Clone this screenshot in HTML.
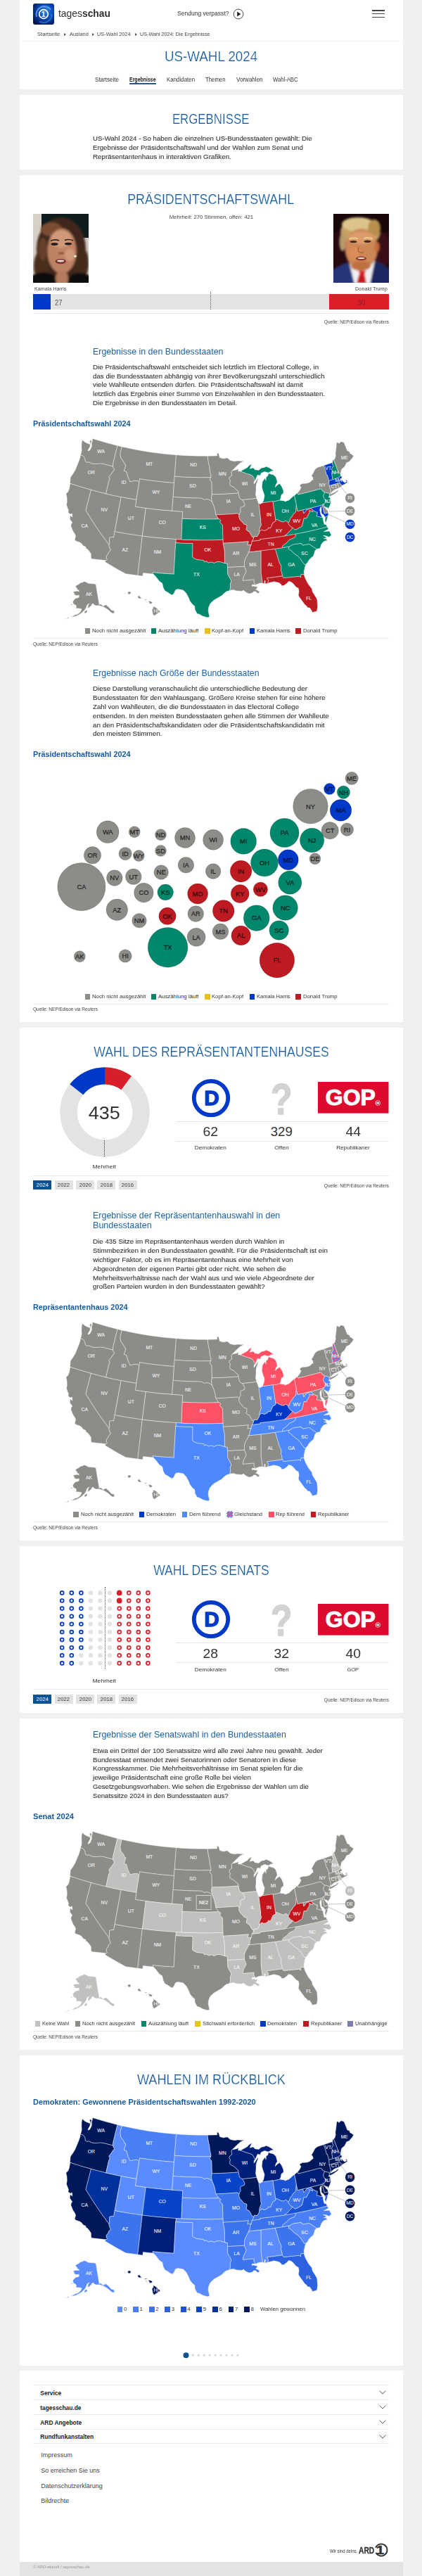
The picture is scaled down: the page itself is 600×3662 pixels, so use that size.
<!DOCTYPE html>
<html lang="de">
<head>
<meta charset="utf-8">
<title>US-Wahl 2024: Die Ergebnisse | tagesschau.de</title>
<meta name="viewport" content="width=600">
<style>
html,body{margin:0;padding:0}
body{background:#f0f0f0;font-family:"Liberation Sans",sans-serif;color:#333;width:600px;height:3662px;overflow:hidden}
#page{position:relative;width:600px;height:3662px;overflow:hidden}
.sec,main{display:block;margin:0;padding:0}
.card{position:absolute;left:27.5px;width:545px;background:#fff;margin:0}
.b{position:absolute}
.t{position:absolute;white-space:pre;line-height:1;margin:0;padding:0}
h1.t,h2.t,h3.t,h4.t{font-weight:400}
svg{position:absolute;overflow:visible}
a{color:inherit;text-decoration:none}
h1.t,h2.t{-webkit-text-stroke:0.22px #fff}
p.t{-webkit-text-stroke:0.1px #333}

</style>
</head>
<body>
<svg width="0" height="0" style="position:absolute" aria-hidden="true"><defs><pattern id="stripe" width="4.2" height="4.2" patternUnits="userSpaceOnUse" patternTransform="rotate(45)"><rect width="4.2" height="4.2" fill="#ff5064"/><rect width="2.1" height="4.2" fill="#4d88ff"/></pattern><path id="sWA" d="M24.5 26.8L25.7 23.2L26.2 20.1L25.9 16.3L26 9.9L27.1 5.2L30.4 8.3L34.3 10.2L38 11.6L38.2 14.6L35.9 18.6L34.8 21.2L37.6 20.2L39.1 17.5L40.5 13.7L40.3 9.4L41.5 6.1L41.3 3.4L58.4 8.6L77 13.5L70.8 38.7L70.6 43L56.8 39.5L52.5 39.1L46 39.6L41.1 39.2L36.7 37L33.6 37.4L30.9 35.5L31.2 33.3L29.6 29.6L28 28.1ZM37.2 6.8L39.2 5.7L40.2 7L39.3 10.2L39.5 13.2L38.9 13.7L38.5 11L38 8.4Z"/><path id="sOR" d="M24.5 26.8L28 28.1L29.6 29.6L31.2 33.3L30.9 35.5L33.6 37.4L36.7 37L41.1 39.2L46 39.6L52.5 39.1L56.8 39.5L70.6 43L71.1 44.9L72.7 47.4L68.6 53.3L64.8 58.3L66.2 60L65.8 62.2L64.7 64.3L60.7 81.9L48 78.7L35.5 75.3L22 71.3L10 67.4L9.5 66.2L10.2 58.5L13.7 53.7L16.8 48.4L22.1 35.8L23.8 30.5Z"/><path id="sCA" d="M40.2 174.4L39.5 172.8L39.5 171L39.3 167.3L36 162.4L33.9 160.3L32.2 159.8L32 157.4L29.7 156.5L27.5 155.2L26.5 153.2L23.4 151L17.4 148.9L16.3 147.2L17.6 141.9L16.4 139.1L13.8 135.2L10.8 127.8L11.4 124.5L12.9 123.1L9.3 118.1L9.4 114.8L10.5 112.5L11.3 113.8L12.6 115.2L12.7 111.6L12 109.8L10.2 111.3L6.9 108.7L7.5 105.8L4.5 97.9L5.3 92.9L5 86.7L3.8 81.9L6.8 79.1L8.3 75.3L9.3 69.8L10 67.4L24.7 72.1L39.5 76.4L32 105.6L38.8 116.6L47.1 129.4L55.8 142L65 154.5L65 156L65.7 157.5L66.3 160.3L67.7 162.1L64.9 164.6L63.4 168.4L61.5 170L61.2 173.5L62.6 175.6L61.1 176.8Z"/><path id="sNV" d="M39.5 76.4L49.4 79.1L60.7 81.9L70.7 84.2L82.2 86.6L76.6 116.1L71.7 143.6L68.8 143.5L65.9 144.3L65.5 148.5L65.8 152.6L65 154.5L55.8 142L47.1 129.4L38.8 116.6L32 105.6Z"/><path id="sID" d="M77 13.5L83.2 15L80.9 25L81.8 30.9L85.6 36.1L87.6 40.3L89.1 40.9L87.9 44.8L86.3 49.3L89.9 50.4L92 58.2L92.9 60L95 64.9L99.1 63.7L105.2 63.2L107.8 65.9L103.9 90.4L92.3 88.5L82.2 86.6L70.7 84.2L60.7 81.9L64.7 64.3L65.8 62.2L66.2 60L64.8 58.3L68.6 53.3L72.7 47.4L71.1 44.9L70.6 43L70.8 38.7Z"/><path id="sMT" d="M83.2 15L102.3 19.1L121.6 22.4L141 24.9L160.5 26.8L157.5 66.5L144.9 65.5L132.3 64.1L119.7 62.5L108.6 60.8L107.8 65.9L105.2 63.2L99.1 63.7L95 64.9L92.9 60L92 58.2L89.9 50.4L86.3 49.3L87.9 44.8L89.1 40.9L87.6 40.3L85.6 36.1L81.8 30.9L80.9 25Z"/><path id="sWY" d="M108.6 60.8L119.7 62.5L132.3 64.1L144.9 65.5L157.5 66.5L154.7 106.3L141.2 105.2L127.7 103.8L114.3 102.1L102.4 100.3Z"/><path id="sUT" d="M82.2 86.6L92.3 88.5L103.9 90.4L102.4 100.3L117.3 102.5L112.3 142.1L91.9 139.1L73.1 135.7Z"/><path id="sCO" d="M117.3 102.5L129.2 104L142.7 105.4L156.2 106.4L169.7 107.2L168 147L154 146.2L140.1 145.1L126.2 143.8L112.3 142.1Z"/><path id="sAZ" d="M73.1 135.7L91.9 139.1L112.3 142.1L105.8 198.1L88.7 195.7L73 187L59.2 178.8L60.3 176.7L61.1 176.8L62.6 175.6L61.2 173.5L61.5 170L63.4 168.4L64.9 164.6L67.7 162.1L66.3 160.3L65.7 157.5L65 156L65 154.5L65.8 152.6L65.5 148.5L65.9 144.3L68.8 143.5L71.7 143.6Z"/><path id="sNM" d="M112.3 142.1L123.1 143.4L135.5 144.7L147.9 145.8L160.3 146.6L160.1 151.6L159.7 151.6L157.2 196.2L142.1 195.2L127.1 193.8L127.6 196.1L113.4 194.5L112.9 199L105.8 198.1Z"/><path id="sTX" d="M127.6 196.1L127.1 193.8L142.1 195.2L157.2 196.2L159.7 151.6L171.9 152.2L184.1 152.6L183.7 171.9L186.2 173.7L190.3 175.6L192.4 175.6L195.2 176.1L199.4 176.3L200.6 178.8L203 177.8L206.9 180L209.8 179L211.9 179L214 180.4L218.5 178.6L222.7 178.5L229.5 180.6L233.3 181.3L233.9 196.6L238.4 204.5L238.7 206.8L237.4 210.3L237.4 213.3L237.6 215.8L236.6 219.4L231.7 221L228.7 223.3L225.8 226.2L224 227.4L214.4 232.9L210.5 236.4L208.7 238.6L206.5 243.9L206.1 248.8L208 257L204.8 257.8L198.5 256L193 253L190.3 252.5L187.2 246.7L186.8 241.8L183.3 238.8L179.9 234.3L178.2 229.8L174.8 223.3L170.6 219L169.3 218.6L162.8 217.5L159.5 218.7L157.3 223.5L154.9 226.1L151.1 224.1L149.7 222.8L144.3 219.7L142 215L140.7 209L136.5 206.2L132.2 200.6L128.3 196.3Z"/><path id="sOK" d="M160.3 146.6L176.2 147.4L193.7 147.8L211.2 147.7L227.2 147.2L227.3 152.2L229.3 163.1L229.5 180.6L222.7 178.5L218.5 178.6L214 180.4L211.9 179L209.8 179L206.9 180L203 177.8L200.6 178.8L199.4 176.3L195.2 176.1L192.4 175.6L190.3 175.6L186.2 173.7L183.7 171.9L184.1 152.6L171.3 152.2L160.1 151.6Z"/><path id="sKS" d="M169.2 117.2L181.3 117.7L195 117.9L208.6 117.9L220.7 117.6L222.7 118.5L224.2 119.8L222.5 121.9L224.1 124.2L226.4 126.2L227.2 147.2L213.1 147.7L197.6 147.8L182 147.6L168 147Z"/><path id="sNE" d="M156.1 86.4L176.3 87.6L196.5 88L200.2 90.3L204.5 89.4L207.5 90.4L210.4 92.4L211.5 93L214.3 99.8L215.8 105.2L216.3 107.7L216.4 109.7L217.1 111.9L218 113.7L219.6 115.6L220.7 117.6L208.6 117.9L195 117.9L181.3 117.7L169.2 117.2L169.7 107.2L154.7 106.3Z"/><path id="sSD" d="M158.2 57.2L170.5 58L184.1 58.5L196.4 58.7L210.1 58.6L208.2 61.6L211 65L211.4 82.9L210.9 84.9L210.6 87.9L211.5 93L210.4 92.4L207.5 90.4L204.5 89.4L200.2 90.3L196.5 88L176.3 87.6L156.1 86.4Z"/><path id="sND" d="M160.5 26.8L170.7 27.4L182.2 27.9L193.7 28.2L205.1 28.2L206.6 38.8L207.9 43.1L208.4 49.3L209.8 55.3L210.1 58.6L196.4 58.7L184.1 58.5L170.5 58L158.2 57.2Z"/><path id="sMN" d="M205.1 28.2L218.7 27.9L218.6 24.1L220.9 24.8L222.5 30.5L227.8 32L230.4 31.3L233.4 30.9L237.3 34.4L243.4 35.7L248.3 35L253.7 35.5L256.7 35.1L256.1 35.7L251.4 38.2L246 43.2L239.1 50.1L239.6 56L236.9 57.9L235.8 61L237.5 62.8L236.9 66.4L236.9 69.4L239.2 71L242.6 72.7L245.6 75.8L248.6 78L249.1 81L230.9 82.2L211.4 82.9L211 65L208.2 61.6L210.1 58.6L209.8 55.3L208.4 49.3L207.9 43.1L206.6 38.8Z"/><path id="sIA" d="M211.4 82.9L230.9 82.2L249.1 81L250.6 88.1L254.1 90.6L256 92.4L258.2 96.9L257.5 99.3L255.5 100.2L252.1 101.6L251.9 103.8L252.2 107.7L250.8 109.6L250.1 112.1L247.6 110L233.1 111.1L217.1 111.9L216.4 109.7L216.3 107.7L215.8 105.2L214.3 99.8L211.5 93L210.6 87.9L210.9 84.9Z"/><path id="sMO" d="M217.1 111.9L233.1 111.1L247.6 110L250.1 112.1L249.7 114.5L251.2 118.8L253.7 121.1L256.7 124.9L260.8 126.2L261.1 128.7L260.1 133.1L262.7 135.1L264.4 135.7L268.6 143.2L270.8 144L269.8 147.6L268.3 149.3L267.8 152.3L267.2 154.4L261.8 154.9L263.2 149.8L246.1 151.2L227.3 152.2L226.4 126.2L224.1 124.2L222.5 121.9L224.2 119.8L222.7 118.5L220.7 117.6L219.6 115.6L218 113.7Z"/><path id="sAR" d="M227.3 152.2L246.1 151.2L263.2 149.8L261.8 154.9L267.2 154.4L265.5 158.6L265 163.3L263.2 164.8L263.3 166.3L259 174.1L257.6 178.2L257.4 181.2L257.6 185.2L246.3 185.9L233.5 186.5L233.3 181.3L229.5 180.6L229.3 163.1Z"/><path id="sLA" d="M233.5 186.5L246.3 185.9L257.6 185.2L258.8 189.1L260.3 191.7L258.9 195L256.4 199.7L255.3 205.3L271.3 203.9L271 207.9L273.7 211.8L271.7 211.3L268.7 211.1L268 213.6L271 212.9L273.3 214.1L275.8 213.4L275.6 215.9L273.6 218.1L276.3 219.3L279.1 221.2L278 223.3L275.8 223.3L273.8 221L270.8 220.8L270 222.1L267.9 223.3L264.4 223.9L261.7 223.1L258.9 221.4L256.1 219.1L254 220.4L246.6 219.9L241.2 218.4L236.6 219.4L237.6 215.8L237.4 213.3L237.4 210.3L238.7 206.8L238.4 204.5L233.9 196.6Z"/><path id="sMS" d="M257.6 185.2L257.4 181.2L257.6 178.2L259 174.1L263.3 166.3L263.2 164.8L280.3 163L281.2 163.9L281.2 193.9L283.3 208.9L278.9 209.2L275.1 210.5L273.7 211.8L271 207.9L271.3 203.9L255.3 205.3L256.4 199.7L258.9 195L260.3 191.7L258.8 189.1Z"/><path id="sAL" d="M280.3 163L301.4 160.2L307.6 180.7L309.9 184.5L309.9 189.1L309.4 190.2L310.5 193.5L311.6 198.9L289.5 201.9L291.6 205.1L290.9 208.9L289.4 209.4L286.8 209.9L287.3 205.7L286 205.5L286 209.8L283.3 208.9L281.2 193.9L281.2 163.9Z"/><path id="sFL" d="M290.9 208.9L291.6 205.1L289.5 201.9L311.6 198.9L313.2 201.5L335.8 199.2L337.6 200.9L337.6 198.5L338.1 196.3L342.1 196.5L343.3 200.4L344.9 204.1L348.4 210.5L353.5 217.1L354.2 221L360.4 231L360.9 233.2L361.6 242.2L360.8 247.4L360.2 249L353.9 250.6L353.1 247.9L350.2 244L347.1 243.7L346.2 241.7L343.1 239.3L341.3 236.6L335.7 229L334.4 226.7L334.4 225.2L335.1 220.6L334.2 216.2L330.9 214.5L327.1 209.9L324.6 207.8L321.3 206.4L319.7 206.9L318.6 208.8L313.4 212.6L310.3 212.4L309.6 210.7L306.8 208.6L299.6 206.8Z"/><path id="sGA" d="M301.4 160.2L311.7 158.7L321.5 156.9L320 160.2L324.6 162.9L327.2 166L331 168.8L333.4 170.2L336 173.4L338 175.1L339.3 177.9L341.5 180.5L342.7 182.3L344.9 182.5L343.4 186.2L343 189.3L342.1 192.2L342.4 196L342.1 196.5L338.1 196.3L337.6 198.5L337.6 200.9L335.8 199.2L313.2 201.5L311.6 198.9L310.5 193.5L309.4 190.2L309.9 189.1L309.9 184.5L307.6 180.7Z"/><path id="sSC" d="M321.5 156.9L326.8 153.9L337.7 152.3L337.9 153.3L338.8 152.6L340.5 155.1L349.4 153.3L360.2 160.5L357.8 162.9L356.3 168.2L355.4 170.4L351.4 173.8L348.6 177L347.7 179.2L345.9 181.1L344.9 182.5L342.7 182.3L341.5 180.5L339.3 177.9L338 175.1L336 173.4L333.4 170.2L331 168.8L327.2 166L324.6 162.9L320 160.2Z"/><path id="sNC" d="M330.1 139.1L330.2 141.6L328.4 144.2L321.6 147.2L317.4 151.8L313.7 154.2L311.6 156.6L311.7 158.7L321.5 156.9L326.8 153.9L337.7 152.3L337.9 153.3L338.8 152.6L340.5 155.1L349.4 153.3L360.2 160.5L365 159.5L366.8 153.9L369.4 150.6L373.2 148.6L374.8 149.3L374.7 146.2L370.4 145.7L374 144.8L373.2 143.3L369.4 141.3L374.1 141.9L377.8 143.6L381.1 140.8L378.3 135.1L370.2 135.8L375.7 133.1L377.1 132L375.3 128.9L364.9 131.6L352.8 134.4L342.3 136.7Z"/><path id="sTN" d="M314.4 141.9L297.1 144.5L279.7 146.5L279.9 148L268.3 149.3L267.8 152.3L267.2 154.4L265.5 158.6L265 163.3L263.2 164.8L286.3 162.3L311.7 158.7L311.6 156.6L313.7 154.2L317.4 151.8L321.6 147.2L328.4 144.2L330.2 141.6L330.1 139.1Z"/><path id="sKY" d="M278.6 135.1L279.3 135.3L282 133L285.9 134.4L290.4 132.4L291.7 129.9L294.2 131L295.8 128.1L297.8 123.1L301.8 120.8L301.7 118.8L304.2 118.4L305.9 119.6L311 121.8L314.1 121.7L316.2 120L319.8 122.5L320.2 125L323.3 128.7L326.2 130.2L324.1 133.1L321.3 135.6L318.6 138.7L314.4 141.9L297.1 144.5L279.7 146.5L279.9 148L268.3 149.3L269.8 147.6L270.8 144L271.6 141.9L274.9 142.6L275.7 142.5L278.4 138.1Z"/><path id="sVA" d="M314.4 141.9L318.6 138.7L321.3 135.6L324.1 133.1L326.2 130.2L329 133.1L332.3 132.1L339.2 128L340.6 123L342 116.6L345.6 116.8L347.4 113.1L350.1 108.5L349.8 105.5L354.4 107.6L354.8 105.6L356.7 106.3L360.2 108.2L361.1 109.3L361.3 110.3L360.1 113.8L362.6 114.1L366.1 115.3L368.4 115.7L369.2 116.5L369.5 119.6L371 125.4L373.4 125.5L375.3 128.9L360.4 132.7L345.3 136.1L328.6 139.4ZM376.4 113.2L373.3 123.5L372 119.9L372.6 115.6L371.3 115.4Z"/><path id="sWV" d="M326.2 130.2L323.3 128.7L320.2 125L319.8 122.5L320.9 122.3L322.2 118.2L323.3 115.9L325.1 114.6L326.8 111.1L329.7 108.5L330.6 106.8L331.2 97.5L333.1 106.5L340.8 104.8L341.9 109.9L346.3 104.3L349.1 103.9L350.5 102.7L353.2 103.1L354.8 105.6L354.4 107.6L349.8 105.5L350.1 108.5L347.4 113.1L345.6 116.8L342 116.6L340.6 123L339.2 128L332.3 132.1L329 133.1Z"/><path id="sMD" d="M340.8 104.8L355.2 101.3L368.1 97.9L371.3 110.1L376.8 108.7L376.9 109.9L376.4 113.2L371.3 115.4L372 114.9L370.1 112.1L367.1 109.8L366.9 105.7L367 100L366.3 100.2L364.5 104.3L365.1 106.7L365.9 111.2L368.4 115.7L366.1 115.3L362.6 114.1L360.1 113.8L361.3 110.3L361.1 109.3L360.2 108.2L356.7 106.3L354.8 105.6L353.2 103.1L350.5 102.7L349.1 103.9L346.3 104.3L341.9 109.9Z"/><path id="sDE" d="M368.1 97.9L369.2 96.4L370.8 96.3L370.2 98.6L370.7 100.5L372.3 102.1L373.5 103.9L375.5 105.4L376.8 108.7L371.3 110.1Z"/><path id="sNJ" d="M370.8 96.3L372.5 94.8L373.7 92.8L374.3 91.1L371.7 89.8L369.9 87.3L369.6 84.4L371.7 79.7L378.4 81.5L378.3 84.7L377.2 87.1L379.2 87L380.4 94L379.2 98.4L376.3 103.8L375.7 101.5L373.6 101.2L370.9 99.9L370.2 98.6Z"/><path id="sPA" d="M371.7 79.7L368.5 78.1L367.9 76.2L365.3 74.9L350.4 78.9L333.9 83L333.4 80.3L328.5 84.4L333.1 106.5L348.1 103.1L363.8 99.1L368.1 97.9L369.2 96.4L370.8 96.3L372.5 94.8L373.7 92.8L374.3 91.1L371.7 89.8L369.9 87.3L369.6 84.4Z"/><path id="sNY" d="M333.4 80.3L335.8 77.4L338.1 72.7L336.5 71L336 69.5L339.8 67.4L346.4 67L350.5 65.6L353.4 62.8L355.3 61.5L354.4 58.1L352.8 56.4L355.1 52.7L357.9 47.2L361.5 44.5L370.5 41.7L372.9 49.4L374.4 55.3L375.5 55.5L377.8 63.2L378.2 70.5L380.5 78.2L379.3 80.1L380.1 81L379.8 82.6L383.6 80.7L387.7 78.9L389.4 76.9L391.7 76.7L388.8 79.9L383.6 83.4L378.8 85.8L378.3 84.7L378.4 81.5L371.7 79.7L370.1 78.9L368.5 78.1L367.9 76.2L365.3 74.9L350.4 78.9L333.9 83Z"/><path id="sCT" d="M378.2 70.5L390.1 66.9L391.9 73.7L384.7 76.8L380.1 81L379.3 80.1L380.5 78.2Z"/><path id="sRI" d="M390.1 66.9L393 65.9L394.1 68.1L395.4 68.8L396.5 70.3L395.4 71.2L394.2 72.5L391.9 73.7Z"/><path id="sMA" d="M378.2 70.5L377.8 63.2L383.4 61.6L391.7 58.8L394.2 56.4L396.4 58L394.6 61.8L396.8 62.7L398.3 64.8L399.9 66.2L402.9 64.8L401 62.6L403 62.6L404 65.8L401.8 67L399.6 68.6L397.8 69.3L396.5 70.3L395.4 68.8L394.1 68.1L393 65.9Z"/><path id="sVT" d="M370.5 41.7L382.7 37.6L382.9 40.3L384 42.5L381.6 46.6L382.3 49.5L381.8 52.9L382.1 56L382.6 59L382.4 60.6L383.4 61.6L377.8 63.2L375.5 55.5L374.4 55.3L372.9 49.4Z"/><path id="sNH" d="M382.7 37.6L383.1 34.3L384.5 33.8L391.4 51.7L394.3 54.2L394.2 56.4L391.7 58.8L383.4 61.6L382.4 60.6L382.6 59L382.1 56L381.8 52.9L382.3 49.5L381.6 46.6L384 42.5L382.9 40.3Z"/><path id="sME" d="M384.5 33.8L386 32.2L387.2 27.5L386.8 23.3L387.4 20.9L388.8 8.9L390.4 8.7L391.8 10.6L395 7.7L399.1 9.1L403.9 21L406.8 22.1L407.9 24.9L409.5 25.4L412.8 28.1L410.9 31.3L407.7 34.8L406.8 36.3L402.8 37.8L399.8 43.8L396.8 46L395.5 47.6L394.6 51.7L394.3 54.2L391.4 51.7Z"/><path id="sOH" d="M328.5 84.4L326.7 85.6L320.9 90.9L315.3 93L313.5 91.8L311.2 91.7L307.7 91.1L297.9 93.1L301.7 118.8L304.2 118.4L305.9 119.6L311 121.8L314.1 121.7L316.2 120L319.8 122.5L320.9 122.3L322.2 118.2L323.3 115.9L325.1 114.6L326.8 111.1L329.7 108.5L330.6 106.8L331.2 97.5Z"/><path id="sIN" d="M297.9 93.1L297.8 92.5L283 94.7L280.4 96.4L277.9 96L280.7 119.3L280.5 121.8L281.5 125.9L280.1 128.9L278.9 132.1L278.6 135.1L279.3 135.3L282 133L285.9 134.4L290.4 132.4L291.7 129.9L294.2 131L295.8 128.1L297.8 123.1L301.8 120.8L301.7 118.8Z"/><path id="sIL" d="M254.1 90.6L274.9 88.3L277.1 94.3L277.9 96L280.7 119.3L280.5 121.8L281.5 125.9L280.1 128.9L278.9 132.1L278.4 138.1L275.7 142.5L274.9 142.6L271.6 141.9L270.8 144L268.6 143.2L264.4 135.7L262.7 135.1L260.1 133.1L261.1 128.7L260.8 126.2L256.7 124.9L253.7 121.1L251.2 118.8L249.7 114.5L250.1 112.1L250.8 109.6L252.2 107.7L251.9 103.8L252.1 101.6L255.5 100.2L257.5 99.3L258.2 96.9L256 92.4Z"/><path id="sWI" d="M252 50L248.7 50L249 46.4L246.4 47.7L240.4 48.9L239.1 50.1L239.6 56L236.9 57.9L235.8 61L237.5 62.8L236.9 66.4L236.9 69.4L239.2 71L242.6 72.7L245.6 75.8L248.6 78L249.1 81L250.6 88.1L254.1 90.6L274.9 88.3L273.5 82.9L274.1 75.8L274 72.3L274.5 68.2L276.9 61.8L277.3 59.8L274.9 62.6L272.8 65.9L271 68.2L271.2 64.6L273.1 62.4L271.1 60.6L271.3 59.6L268.7 55.9L265 54.3L261.5 53.4Z"/><path id="sMI" d="M283 94.7L284.9 91L286.1 84.1L284.4 79.7L282.3 72.7L283 65L286.8 59.4L288.1 63.2L288.4 58.1L290.6 56.8L291.9 52.7L294 53.7L298.8 55.1L302.3 58.3L304.3 65.5L302.1 69.3L301.2 72.7L304.3 69.6L307.6 67.5L310.5 71.5L312.9 77.2L313.1 81.2L310.7 82.7L309.6 84.7L309.4 87.5L307.7 91.1L297.9 93.1L297.8 92.5ZM273.1 62.4L276 55.4L278.5 55.6L279.7 56.4L281.2 52.7L286.1 50.4L291.7 52L295.1 49.9L299.2 49.2L293.2 45.2L288.7 43.2L285.2 44.7L281.8 45.3L277.8 48.4L272.5 47.8L270.1 45.1L265.1 46.2L268 39.6L264.2 41.8L261.8 44.6L252 50L261.5 53.4L265 54.3L268.7 55.9L271.3 59.6L271.1 60.6Z"/><path id="sAK" d="M46.3 210.8L43.4 209.8L40.7 209.8L37.9 209.4L35.3 209.3L33.7 208.1L29.6 206.4L27.9 207.8L25.8 208.2L23.6 209L22.2 210.5L18.2 212.5L17.1 213.9L18.4 215.1L19.4 216.3L20 218.4L22 219.1L22.4 220.7L19.9 220.2L16.7 220.5L13.6 221.9L15.4 223.3L16.3 226L19.5 226.6L22.3 226.1L22.2 229L20.4 229.9L17.5 230.4L15.7 232.3L13.5 235L13.7 236L14.4 238.4L18 240.6L18.5 242.3L18 244.9L20.6 244.8L23.8 245.2L25.4 245.6L26.2 245.7L24.8 249L23.1 250.9L22.2 251.6L19.5 253.5L17.7 253.6L14.2 255.6L11.2 256.6L14.5 256.9L17.4 256.1L20.2 254.9L26.6 251.1L28.4 249L30.2 247.5L31 246.2L31.9 245L33.8 240.3L35 238.8L37.3 238.1L35.3 240L35 243.1L34.4 244.4L37.4 243.4L38.3 241.8L40 241.7L40.3 239.2L42.7 238.1L43.9 239.9L46.7 241.1L49.8 240.7L53.6 241.5L57.1 242.8L59.7 244.2L63.6 246.7L68.3 250.9L70.4 251.9L72.3 251.8L72.7 250.1L72 248.1L68.4 247.3L64.2 242.6L60.6 239.7L58.5 240.6L57 241.7L54 239.6L54 238.8L51.1 239.5ZM33.8 248.5L34.1 250.1L32.2 251.3L30.3 251.9L29.9 250L32.8 247.2ZM11 256.7L13.9 257.1L13.6 255.9L11.6 255.7ZM8.4 257.9L6.7 259.3L5 259.4L6.9 257.8ZM4.8 258.6L2.4 260.4L4 260.1ZM8.2 226.9L10.4 229.5L9.4 227.9ZM12.8 238.7L13.3 240.1L11.3 239.7L10.8 238.6Z"/><path id="sHI" d="M127.6 241.8L130.9 243.2L138 249.5L133.2 252.5L129.5 255.2L127.4 253.4L126.1 246.8L128.1 244.3ZM120.2 234.6L124 234.7L126.8 236.3L125.8 238L122.7 238.4L122 236.2ZM114.5 233L117.4 232L120 232.4L116.9 233.2ZM116.8 235.5L119 235.6L118.2 236.8ZM105.4 228L108.2 226.7L111.3 230.9L107 230.8ZM96.1 222.9L95.7 221.7L94.6 221L93.2 220.9L92 221.6L91.5 222.8L91.9 224L93 224.7L94.4 224.8L95.6 224.1ZM86.8 225.1L88.8 223.4L88.1 223.1Z"/><path id="sDC" d="M360.2 108.2L360.6 107.4L361.9 108.2L361.1 109.3Z"/></defs></svg>

<div id="page">
<header class="sec" aria-label="Kopfbereich"><div class="card" style="top:0px;height:127.2px"></div>
<svg role="img" aria-label="tagesschau Logo" style="left:47.2px;top:4.8px" width="30" height="30" viewBox="0 0 30 30"><defs><radialGradient id="lg" cx="0.6" cy="0.38" r="0.78"><stop offset="0" stop-color="#2a8af0"/><stop offset="0.4" stop-color="#0c4fb8"/><stop offset="0.8" stop-color="#03206c"/><stop offset="1" stop-color="#021046"/></radialGradient><clipPath id="lgc"><rect width="30" height="30" rx="3.2"/></clipPath></defs><rect width="30" height="30" rx="3.2" fill="url(#lg)"/><g clip-path="url(#lgc)" fill="none"><path d="M5 19 A11.5 11.5 0 0 1 25 8.5" stroke="#8fd0ff" stroke-width="2.2" opacity="0.55"/><path d="M9 25.5 A11.5 11.5 0 0 0 26.5 15" stroke="#3f9af0" stroke-width="2.2" opacity="0.5"/></g><circle cx="15" cy="15" r="6.3" fill="none" stroke="#fff" stroke-width="1.7"/><text x="14.6" y="18.6" text-anchor="middle" font-family="Liberation Sans, sans-serif" font-weight="700" font-size="10.2" fill="#fff">1</text></svg>
<div class="t" style="left:83.00px;top:11.18px;font-size:15.5px;transform:scaleX(0.8944);transform-origin:0 0;">tages<b>schau</b></div>
<div class="t" style="left:252.20px;top:15.18px;font-size:9px;transform:scaleX(0.9476);transform-origin:0 0;">Sendung verpasst?</div>
<svg style="left:330.5px;top:12px" width="16" height="16" viewBox="0 0 16 16"><circle cx="8" cy="8" r="6.9" fill="none" stroke="#333" stroke-width="0.9"/><path d="M6.2 4.6 L11.4 8 L6.2 11.4 Z" fill="#222"/></svg>
<div class="b" style="left:529px;top:14.3px;width:18.2px;height:1.3px;background:#444;"></div>
<div class="b" style="left:529px;top:19.2px;width:18.2px;height:1.3px;background:#444;"></div>
<div class="b" style="left:529px;top:24.1px;width:18.2px;height:1.3px;background:#444;"></div>
<div class="t" style="left:53.10px;top:45.04px;font-size:7.4px;color:#444;transform:scaleX(1.0341);transform-origin:0 0;">Startseite</div>
<div class="t" style="left:98.60px;top:45.04px;font-size:7.4px;color:#444;transform:scaleX(1.0030);transform-origin:0 0;">Ausland</div>
<div class="t" style="left:138.40px;top:45.04px;font-size:7.4px;color:#444;transform:scaleX(0.9938);transform-origin:0 0;">US-Wahl 2024</div>
<div class="t" style="left:199.00px;top:45.04px;font-size:7.4px;color:#444;transform:scaleX(0.9753);transform-origin:0 0;">US-Wahl 2024: Die Ergebnisse</div>
<svg style="left:91.1px;top:46.9px" width="3" height="4" viewBox="0 0 3 4"><path d="M0 0 L3 2 L0 4 Z" fill="#555"/></svg>
<svg style="left:131.1px;top:46.9px" width="3" height="4" viewBox="0 0 3 4"><path d="M0 0 L3 2 L0 4 Z" fill="#555"/></svg>
<svg style="left:191.6px;top:46.9px" width="3" height="4" viewBox="0 0 3 4"><path d="M0 0 L3 2 L0 4 Z" fill="#555"/></svg>
<div class="b" style="left:29.6px;top:58px;width:539px;height:1px;background:#efefef;"></div>
<h1 class="t" style="left:228.94px;top:69.50px;font-size:20.2px;color:#155a9f;transform:scaleX(0.9302);transform-origin:50% 0;">US-WAHL 2024</h1>
<div class="t" style="left:135.40px;top:108.89px;font-size:8.4px;transform:scaleX(0.9635);transform-origin:0 0;">Startseite</div>
<div class="t" style="left:184.40px;top:108.89px;font-size:8.4px;font-weight:700;color:#222;transform:scaleX(0.8327);transform-origin:0 0;">Ergebnisse</div>
<div class="b" style="left:184.4px;top:118.4px;width:37.6px;height:1.4px;background:#1a5c96;"></div>
<div class="t" style="left:236.90px;top:108.89px;font-size:8.4px;transform:scaleX(0.9460);transform-origin:0 0;">Kandidaten</div>
<div class="t" style="left:292.00px;top:108.89px;font-size:8.4px;transform:scaleX(0.9273);transform-origin:0 0;">Themen</div>
<div class="t" style="left:335.80px;top:108.89px;font-size:8.4px;transform:scaleX(0.9610);transform-origin:0 0;">Vorwahlen</div>
<div class="t" style="left:388.30px;top:108.89px;font-size:8.4px;transform:scaleX(0.9128);transform-origin:0 0;">Wahl-ABC</div>
</header>
<main>
<section class="sec" aria-label="Ergebnisse"><div class="card" style="top:134.8px;height:106.0px"></div>
<h2 class="t" style="left:234.37px;top:159.00px;font-size:20.2px;color:#155a9f;transform:scaleX(0.8342);transform-origin:50% 0;">ERGEBNISSE</h2>
<p class="t" style="left:131.50px;top:192.24px;font-size:9.4px;transform:scaleX(1.0302);transform-origin:0 0;">US-Wahl 2024 - So haben die einzelnen US-Bundesstaaten gewählt: Die</p>
<p class="t" style="left:131.50px;top:205.04px;font-size:9.4px;transform:scaleX(1.0362);transform-origin:0 0;">Ergebnisse der Präsidentschaftswahl und der Wahlen zum Senat und</p>
<p class="t" style="left:131.50px;top:217.84px;font-size:9.4px;transform:scaleX(1.0466);transform-origin:0 0;">Repräsentantenhaus in interaktiven Grafiken.</p>
</section>
<section class="sec" aria-label="Präsidentschaftswahl"><div class="card" style="top:248.6px;height:1204.8px"></div>
<h2 class="t" style="left:166.34px;top:272.70px;font-size:20.2px;color:#155a9f;transform:scaleX(0.8866);transform-origin:50% 0;">PRÄSIDENTSCHAFTSWAHL</h2>
<div class="t" style="left:239.54px;top:305.11px;font-size:7.9px;color:#444;transform:scaleX(0.9882);transform-origin:50% 0;">Mehrheit: 270 Stimmen, offen: 421</div>
<svg role="img" aria-label="Kamala Harris" style="left:47.1px;top:304.0px" width="78.9" height="98.1" viewBox="0 0 78.9 98.1"><defs><clipPath id="cph"><rect width="78.9" height="98.1"/></clipPath><filter id="bl1" x="-20%" y="-20%" width="140%" height="140%"><feGaussianBlur stdDeviation="1.5"/></filter><filter id="bl2" x="-20%" y="-20%" width="140%" height="140%"><feGaussianBlur stdDeviation="0.7"/></filter></defs><g clip-path="url(#cph)"><rect width="78.9" height="98.1" fill="#d6d0c6"/><rect x="12" y="0" width="67" height="34" fill="#0e1c1c"/><rect x="70" y="34" width="9" height="42" fill="#d2cdc4"/><g filter="url(#bl1)"><ellipse cx="40" cy="50" rx="35" ry="45" fill="#3f271b"/><ellipse cx="12" cy="74" rx="11" ry="22" fill="#4a2d1f"/><ellipse cx="68" cy="70" rx="11" ry="24" fill="#452a1d"/><ellipse cx="26" cy="22" rx="15" ry="10" fill="#7a4e33"/><ellipse cx="14" cy="50" rx="6" ry="16" fill="#68412b"/><path d="M-4 100 L-2 88 Q14 79 28 86 L40 100 Z" fill="#0b0b0e"/><path d="M84 100 L82 88 Q64 80 54 87 L42 100 Z" fill="#0d0d10"/><ellipse cx="41" cy="53" rx="20.5" ry="32" fill="#bd8262"/><ellipse cx="41" cy="92" rx="9" ry="12" fill="#b47c5e"/><ellipse cx="40" cy="36" rx="15" ry="12" fill="#d09a7a"/><ellipse cx="52" cy="58" rx="7" ry="9" fill="#d19a7a"/></g><g filter="url(#bl2)"><ellipse cx="30.5" cy="43" rx="5" ry="1.9" fill="#2a1a14"/><ellipse cx="50" cy="42.6" rx="5" ry="1.9" fill="#2a1a14"/><path d="M25 38.4 Q31 35.5 37 38" stroke="#3a2418" stroke-width="1.7" fill="none"/><path d="M45 37.6 Q51 35.2 57 38" stroke="#3a2418" stroke-width="1.7" fill="none"/><ellipse cx="40" cy="56" rx="4.4" ry="2" fill="#a0644a"/><ellipse cx="39.2" cy="67.6" rx="7.6" ry="3.6" fill="#7a3034"/><ellipse cx="39.2" cy="67" rx="5" ry="1.4" fill="#eadcd4"/><circle cx="60" cy="60.3" r="1.7" fill="#f4efe6"/></g></g></svg>
<svg role="img" aria-label="Donald Trump" style="left:473.7px;top:304.0px" width="79.0" height="98.1" viewBox="0 0 79 98.1"><defs><clipPath id="cpt"><rect width="79" height="98.1"/></clipPath></defs><g clip-path="url(#cpt)"><rect width="79" height="98.1" fill="#260a10"/><rect x="0" y="0" width="79" height="26" fill="#170709"/><g filter="url(#bl1)"><ellipse cx="66" cy="52" rx="16" ry="26" fill="#3a0e18"/><path d="M-4 100 L-3 82 Q6 74 20 69 L40 100 Z" fill="#27357a"/><path d="M84 100 L82 80 Q72 72 60 67 L40 100 Z" fill="#1c2860"/><path d="M22 67 L30 100 L52 100 L59 66 Q40 78 22 67 Z" fill="#f0f0f3"/><path d="M36.5 86 L44.5 86 L47 99 L33 99 Z" fill="#c4121c"/><path d="M36 81 L46 81 L44 88 L37.5 88 Z" fill="#d81c26"/><ellipse cx="38" cy="26" rx="28" ry="21" fill="#c4a064"/><ellipse cx="34" cy="15" rx="22" ry="10" fill="#dcc48c"/><ellipse cx="58" cy="20" rx="9" ry="12" fill="#b8904e"/><ellipse cx="13" cy="40" rx="4.5" ry="13" fill="#b89a6a"/><ellipse cx="39.5" cy="50" rx="23" ry="29" fill="#cd8656"/><ellipse cx="40" cy="34" rx="18" ry="9" fill="#dc9c6c"/><ellipse cx="30" cy="56" rx="8" ry="9" fill="#dc8e58"/><ellipse cx="39" cy="74" rx="14" ry="7" fill="#c07040"/><ellipse cx="62" cy="47" rx="3.5" ry="7" fill="#c06a3c"/></g><g filter="url(#bl2)"><ellipse cx="28.5" cy="39.6" rx="5" ry="1.7" fill="#3a2a24"/><ellipse cx="48.5" cy="39.2" rx="5" ry="1.7" fill="#3a2a24"/><path d="M22 36 Q28 32.6 35 35.6" stroke="#e6cc8a" stroke-width="1.9" fill="none"/><path d="M43 35.2 Q50 32.6 56 35.8" stroke="#e6cc8a" stroke-width="1.9" fill="none"/><path d="M36 47 Q34 53 37 54.5 Q40 55.6 43 54.5" stroke="#a85a30" stroke-width="1.3" fill="none"/><ellipse cx="39.5" cy="63.4" rx="7.6" ry="2.8" fill="#8a3a30"/><ellipse cx="39.5" cy="63" rx="5" ry="1.1" fill="#f0e0d8"/></g></g></svg>
<div class="t" style="left:49.30px;top:406.77px;font-size:7.6px;color:#444;transform:scaleX(0.9416);transform-origin:0 0;">Kamala Harris</div>
<div class="t" style="left:503.10px;top:406.77px;font-size:7.6px;color:#444;transform:scaleX(0.9559);transform-origin:100% 0;">Donald Trump</div>
<div class="b" style="left:47.4px;top:418.3px;width:505.20000000000005px;height:21.5px;background:#e3e3e3;"></div>
<div class="b" style="left:47.4px;top:418.3px;width:25.1px;height:21.5px;background:#0039ca;"></div>
<div class="b" style="left:468.1px;top:418.3px;width:84.5px;height:21.5px;background:#dc1e28;"></div>
<div class="t" style="left:77.80px;top:424.86px;font-size:10.8px;color:#555;transform:scaleX(0.8655);transform-origin:0 0;">27</div>
<div class="t" style="left:507.99px;top:424.86px;font-size:10.8px;color:#8e1a22;transform:scaleX(0.8822);transform-origin:50% 0;">90</div>
<div class="b" style="left:299.2px;top:415px;width:0;height:25px;border-left:1px dotted #555"></div>
<div class="b" style="left:47.4px;top:445px;width:505.20000000000005px;height:1px;background:#e6e6e6;"></div>
<div class="t" style="left:450.73px;top:454.31px;font-size:7.2px;color:#444;transform:scaleX(0.9031);transform-origin:100% 0;">Quelle: NEP/Edison via Reuters</div>
<h3 class="t" style="left:131.50px;top:493.73px;font-size:12.6px;color:#1b62a8;transform:scaleX(0.9849);transform-origin:0 0;">Ergebnisse in den Bundesstaaten</h3>
<p class="t" style="left:131.50px;top:516.74px;font-size:9.4px;transform:scaleX(1.0444);transform-origin:0 0;">Die Präsidentschaftswahl entscheidet sich letztlich im Electoral College, in</p>
<p class="t" style="left:131.50px;top:529.54px;font-size:9.4px;transform:scaleX(1.0384);transform-origin:0 0;">das die Bundesstaaten abhängig von ihrer Bevölkerungszahl unterschiedlich</p>
<p class="t" style="left:131.50px;top:542.34px;font-size:9.4px;transform:scaleX(1.0419);transform-origin:0 0;">viele Wahlleute entsenden dürfen. Die Präsidentschaftswahl ist damit</p>
<p class="t" style="left:131.50px;top:555.14px;font-size:9.4px;transform:scaleX(1.0367);transform-origin:0 0;">letztlich das Ergebnis einer Summe von Einzelwahlen in den Bundesstaaten.</p>
<p class="t" style="left:131.50px;top:567.94px;font-size:9.4px;transform:scaleX(1.0324);transform-origin:0 0;">Die Ergebnisse in den Bundesstaaten im Detail.</p>
<h4 class="t" style="left:47.40px;top:596.63px;font-size:10.6px;font-weight:700;color:#155a9f;transform:scaleX(1.0226);transform-origin:0 0;">Präsidentschaftswahl 2024</h4>
<svg class="map" role="img" aria-label="Karte Präsidentschaftswahl 2024" style="left:90.0px;top:620.0px" width="430" height="266" viewBox="0 0 430 266"><g stroke="#fff" stroke-width="0.42" stroke-linejoin="round"><use href="#sWA" fill="#8c8c88"/><use href="#sOR" fill="#8c8c88"/><use href="#sCA" fill="#8c8c88"/><use href="#sNV" fill="#8c8c88"/><use href="#sID" fill="#8c8c88"/><use href="#sMT" fill="#8c8c88"/><use href="#sWY" fill="#8c8c88"/><use href="#sUT" fill="#8c8c88"/><use href="#sCO" fill="#8c8c88"/><use href="#sAZ" fill="#8c8c88"/><use href="#sNM" fill="#8c8c88"/><use href="#sTX" fill="#00876c"/><use href="#sOK" fill="#bd1b21"/><use href="#sKS" fill="#00876c"/><use href="#sNE" fill="#8c8c88"/><use href="#sSD" fill="#8c8c88"/><use href="#sND" fill="#8c8c88"/><use href="#sMN" fill="#8c8c88"/><use href="#sIA" fill="#8c8c88"/><use href="#sMO" fill="#bd1b21"/><use href="#sAR" fill="#8c8c88"/><use href="#sLA" fill="#8c8c88"/><use href="#sMS" fill="#8c8c88"/><use href="#sAL" fill="#bd1b21"/><use href="#sFL" fill="#bd1b21"/><use href="#sGA" fill="#00876c"/><use href="#sSC" fill="#00876c"/><use href="#sNC" fill="#00876c"/><use href="#sTN" fill="#bd1b21"/><use href="#sKY" fill="#bd1b21"/><use href="#sVA" fill="#00876c"/><use href="#sWV" fill="#bd1b21"/><use href="#sMD" fill="#0038c8"/><use href="#sDE" fill="#8c8c88"/><use href="#sNJ" fill="#00876c"/><use href="#sPA" fill="#00876c"/><use href="#sNY" fill="#8c8c88"/><use href="#sCT" fill="#8c8c88"/><use href="#sRI" fill="#8c8c88"/><use href="#sMA" fill="#0038c8"/><use href="#sVT" fill="#0038c8"/><use href="#sNH" fill="#00876c"/><use href="#sME" fill="#8c8c88"/><use href="#sOH" fill="#00876c"/><use href="#sIN" fill="#bd1b21"/><use href="#sIL" fill="#8c8c88"/><use href="#sWI" fill="#8c8c88"/><use href="#sMI" fill="#00876c"/><use href="#sAK" fill="#8c8c88"/><use href="#sHI" fill="#8c8c88"/><use href="#sDC" fill="#0038c8"/></g><g stroke="#a8a8a8" stroke-width="0.7" fill="none"><path d="M393.3 69.6L407.6 88.1"/><path d="M377.3 107.0L407.6 106.4"/><path d="M377.0 111.2L407.6 125.3"/></g><circle cx="407.6" cy="88.1" r="6.8" fill="#8c8c88"/><circle cx="407.6" cy="106.4" r="6.8" fill="#8c8c88"/><circle cx="407.6" cy="125.3" r="6.8" fill="#0038c8"/><circle cx="407.6" cy="143.6" r="6.8" fill="#0038c8"/><g font-family="Liberation Sans, sans-serif" font-size="6.8" fill="#fff" fill-opacity="0.93" stroke="#fff" stroke-width="0.1" text-anchor="middle"><text x="53.7" y="24.0">WA</text><text x="39.8" y="54.2">OR</text><text x="30.2" y="129.9">CA</text><text x="58.3" y="106.8">NV</text><text x="86.0" y="68.0">ID</text><text x="122.3" y="42.4">MT</text><text x="131.9" y="81.6">WY</text><text x="96.3" y="118.5">UT</text><text x="140.8" y="125.3">CO</text><text x="87.8" y="164.3">AZ</text><text x="134.0" y="166.7">NM</text><text x="189.4" y="198.7">TX</text><text x="205.4" y="164.3">OK</text><text x="198.3" y="132.4">KS</text><text x="177.7" y="102.2">NE</text><text x="184.1" y="72.7">SD</text><text x="185.2" y="43.2">ND</text><text x="226.4" y="56.0">MN</text><text x="234.9" y="95.1">IA</text><text x="245.6" y="133.7">MO</text><text x="245.6" y="168.5">AR</text><text x="246.7" y="198.7">LA</text><text x="269.4" y="185.2">MS</text><text x="294.7" y="185.0">AL</text><text x="349.1" y="233.4">FL</text><text x="324.3" y="185.0">GA</text><text x="343.1" y="169.0">SC</text><text x="354.1" y="148.7">NC</text><text x="295.1" y="155.9">TN</text><text x="306.7" y="136.7">KY</text><text x="357.1" y="128.8">VA</text><text x="331.9" y="122.8">WV</text><text x="375.6" y="95.1">NJ</text><text x="355.0" y="95.1">PA</text><text x="368.5" y="72.0">NY</text><text x="385.2" y="74.1">CT</text><text x="391.3" y="64.8">MA</text><text x="376.7" y="47.8">VT</text><text x="386.6" y="54.2">NH</text><text x="399.8" y="33.2">ME</text><text x="315.5" y="108.9">OH</text><text x="292.5" y="113.9">IN</text><text x="269.4" y="113.9">IL</text><text x="258.0" y="70.2">WI</text><text x="298.5" y="83.3">MI</text><text x="36.6" y="226.5">AK</text><text x="131.9" y="251.0">HI</text><text x="407.6" y="90.2">RI</text><text x="407.6" y="108.5">DE</text><text x="407.6" y="127.4">MD</text><text x="407.6" y="145.7">DC</text></g></svg>
<div class="b" style="left:120.9px;top:893.0px;width:7.6px;height:7.6px;background:#8c8c88;"></div>
<div class="t" style="left:131.10px;top:893.00px;font-size:7.8px;transform:scaleX(0.9971);transform-origin:0 0;">Noch nicht ausgezählt</div>
<div class="b" style="left:214.7px;top:893.0px;width:7.6px;height:7.6px;background:#00876c;"></div>
<div class="t" style="left:224.90px;top:893.00px;font-size:7.8px;">Auszählung läuft</div>
<div class="b" style="left:291.0px;top:893.0px;width:7.6px;height:7.6px;background:#e6c315;"></div>
<div class="t" style="left:301.20px;top:893.00px;font-size:7.8px;transform:scaleX(0.9836);transform-origin:0 0;">Kopf-an-Kopf</div>
<div class="b" style="left:354.5px;top:893.0px;width:7.6px;height:7.6px;background:#0038c8;"></div>
<div class="t" style="left:364.70px;top:893.00px;font-size:7.8px;transform:scaleX(0.9634);transform-origin:0 0;">Kamala Harris</div>
<div class="b" style="left:420.4px;top:893.0px;width:7.6px;height:7.6px;background:#bd1b21;"></div>
<div class="t" style="left:430.60px;top:893.00px;font-size:7.8px;transform:scaleX(0.9901);transform-origin:0 0;">Donald Trump</div>
<div class="b" style="left:47.4px;top:907px;width:505.20000000000005px;height:1px;background:#e6e6e6;"></div>
<div class="t" style="left:47.40px;top:911.71px;font-size:7.2px;color:#444;transform:scaleX(0.9031);transform-origin:0 0;">Quelle: NEP/Edison via Reuters</div>
<h3 class="t" style="left:131.50px;top:951.33px;font-size:12.6px;color:#1b62a8;transform:scaleX(0.9763);transform-origin:0 0;">Ergebnisse nach Größe der Bundesstaaten</h3>
<p class="t" style="left:131.50px;top:974.44px;font-size:9.4px;transform:scaleX(1.0469);transform-origin:0 0;">Diese Darstellung veranschaulicht die unterschiedliche Bedeutung der</p>
<p class="t" style="left:131.50px;top:987.24px;font-size:9.4px;transform:scaleX(1.0342);transform-origin:0 0;">Bundesstaaten für den Wahlausgang. Größere Kreise stehen für eine höhere</p>
<p class="t" style="left:131.50px;top:1000.04px;font-size:9.4px;transform:scaleX(1.0313);transform-origin:0 0;">Zahl von Wahlleuten, die die Bundesstaaten in das Electoral College</p>
<p class="t" style="left:131.50px;top:1012.84px;font-size:9.4px;transform:scaleX(1.0454);transform-origin:0 0;">entsenden. In den meisten Bundesstaaten gehen alle Stimmen der Wahlleute</p>
<p class="t" style="left:131.50px;top:1025.64px;font-size:9.4px;transform:scaleX(1.0540);transform-origin:0 0;">an den Präsidentschaftskandidaten oder die Präsidentschaftskandidatin mit</p>
<p class="t" style="left:131.50px;top:1038.44px;font-size:9.4px;transform:scaleX(1.0549);transform-origin:0 0;">den meisten Stimmen.</p>
<h4 class="t" style="left:47.40px;top:1067.13px;font-size:10.6px;font-weight:700;color:#155a9f;transform:scaleX(1.0226);transform-origin:0 0;">Präsidentschaftswahl 2024</h4>
<svg role="img" aria-label="Bundesstaaten nach Zahl der Wahlleute" style="left:70px;top:1090px" width="450" height="310" viewBox="70 1090 450 310"><g stroke="#000" stroke-opacity="0.28" stroke-width="0.6"><circle cx="153.2" cy="1182.7" r="15.9" fill="#8c8c88"/><circle cx="191.2" cy="1182.7" r="8.0" fill="#8c8c88"/><circle cx="131.5" cy="1215.8" r="12.2" fill="#8c8c88"/><circle cx="178.1" cy="1213.6" r="9.2" fill="#8c8c88"/><circle cx="197.3" cy="1216.5" r="8.0" fill="#8c8c88"/><circle cx="115.9" cy="1260.6" r="34.1" fill="#8c8c88"/><circle cx="162.8" cy="1248.1" r="11.3" fill="#8c8c88"/><circle cx="189.8" cy="1246.3" r="11.3" fill="#8c8c88"/><circle cx="204.4" cy="1269.1" r="13.8" fill="#8c8c88"/><circle cx="166.3" cy="1293.3" r="15.3" fill="#8c8c88"/><circle cx="228.5" cy="1186.7" r="8.0" fill="#8c8c88"/><circle cx="228.5" cy="1209.4" r="8.0" fill="#8c8c88"/><circle cx="263" cy="1190.9" r="14.5" fill="#8c8c88"/><circle cx="303.1" cy="1193.8" r="14.5" fill="#8c8c88"/><circle cx="346.2" cy="1195.9" r="18.4" fill="#00876c"/><circle cx="264.4" cy="1229.7" r="11.3" fill="#8c8c88"/><circle cx="229.2" cy="1240" r="10.3" fill="#8c8c88"/><circle cx="303.1" cy="1238.6" r="10.8" fill="#8c8c88"/><circle cx="342.6" cy="1238.6" r="15.3" fill="#bd1b21"/><circle cx="235.2" cy="1268.4" r="11.3" fill="#00876c"/><circle cx="281.1" cy="1270.6" r="14.5" fill="#bd1b21"/><circle cx="341.2" cy="1270.6" r="13.0" fill="#bd1b21"/><circle cx="238.0" cy="1302.3" r="12.2" fill="#bd1b21"/><circle cx="278.3" cy="1299.1" r="11.3" fill="#8c8c88"/><circle cx="317.7" cy="1294.9" r="15.3" fill="#bd1b21"/><circle cx="500.1" cy="1106.4" r="9.2" fill="#8c8c88"/><circle cx="468.5" cy="1121.6" r="8.0" fill="#0038c8"/><circle cx="488.4" cy="1126.3" r="9.2" fill="#00876c"/><circle cx="441.5" cy="1146.2" r="24.8" fill="#8c8c88"/><circle cx="484.5" cy="1151.9" r="15.3" fill="#0038c8"/><circle cx="469.2" cy="1180.7" r="12.2" fill="#8c8c88"/><circle cx="493.4" cy="1179.2" r="9.2" fill="#8c8c88"/><circle cx="404.5" cy="1183.9" r="20.6" fill="#00876c"/><circle cx="443.6" cy="1194.5" r="17.2" fill="#00876c"/><circle cx="447.9" cy="1220.8" r="8.0" fill="#8c8c88"/><circle cx="409.8" cy="1222.2" r="14.5" fill="#0038c8"/><circle cx="376" cy="1226.5" r="19.5" fill="#00876c"/><circle cx="412.3" cy="1254.6" r="16.6" fill="#00876c"/><circle cx="370.4" cy="1264.2" r="10.3" fill="#bd1b21"/><circle cx="405.6" cy="1290.5" r="17.8" fill="#00876c"/><circle cx="364.7" cy="1305.1" r="18.4" fill="#00876c"/><circle cx="396.7" cy="1322.5" r="13.8" fill="#00876c"/><circle cx="313.5" cy="1324.3" r="11.3" fill="#8c8c88"/><circle cx="342.7" cy="1329.9" r="13.8" fill="#bd1b21"/><circle cx="393.9" cy="1365.1" r="24.8" fill="#bd1b21"/><circle cx="198" cy="1308.8" r="10.3" fill="#8c8c88"/><circle cx="238.6" cy="1346.8" r="28.4" fill="#00876c"/><circle cx="279.1" cy="1332.3" r="13.0" fill="#8c8c88"/><circle cx="178.1" cy="1358.9" r="9.2" fill="#8c8c88"/><circle cx="113.3" cy="1359.7" r="8.0" fill="#8c8c88"/></g><g font-family="Liberation Sans, sans-serif" font-size="9.3" fill="#000" fill-opacity="0.66" text-anchor="middle" stroke="#000" stroke-opacity="0.6" stroke-width="0.35"><text x="153.2" y="1186.0">WA</text><text x="191.2" y="1186.0">MT</text><text x="131.5" y="1219.1">OR</text><text x="178.1" y="1216.9">ID</text><text x="197.3" y="1219.8">WY</text><text x="115.9" y="1263.9">CA</text><text x="162.8" y="1251.4">NV</text><text x="189.8" y="1249.6">UT</text><text x="204.4" y="1272.4">CO</text><text x="166.3" y="1296.6">AZ</text><text x="228.5" y="1190.0">ND</text><text x="228.5" y="1212.7">SD</text><text x="263" y="1194.2">MN</text><text x="303.1" y="1197.1">WI</text><text x="346.2" y="1199.2">MI</text><text x="264.4" y="1233.0">IA</text><text x="229.2" y="1243.3">NE</text><text x="303.1" y="1241.9">IL</text><text x="342.6" y="1241.9">IN</text><text x="235.2" y="1271.7">KS</text><text x="281.1" y="1273.9">MO</text><text x="341.2" y="1273.9">KY</text><text x="238.0" y="1305.6">OK</text><text x="278.3" y="1302.4">AR</text><text x="317.7" y="1298.2">TN</text><text x="500.1" y="1109.7">ME</text><text x="468.5" y="1124.9">VT</text><text x="488.4" y="1129.6">NH</text><text x="441.5" y="1149.5">NY</text><text x="484.5" y="1155.2">MA</text><text x="469.2" y="1184.0">CT</text><text x="493.4" y="1182.5">RI</text><text x="404.5" y="1187.2">PA</text><text x="443.6" y="1197.8">NJ</text><text x="447.9" y="1224.1">DE</text><text x="409.8" y="1225.5">MD</text><text x="376" y="1229.8">OH</text><text x="412.3" y="1257.9">VA</text><text x="370.4" y="1267.5">WV</text><text x="405.6" y="1293.8">NC</text><text x="364.7" y="1308.4">GA</text><text x="396.7" y="1325.8">SC</text><text x="313.5" y="1327.6">MS</text><text x="342.7" y="1333.2">AL</text><text x="393.9" y="1368.4">FL</text><text x="198" y="1312.1">NM</text><text x="238.6" y="1350.1">TX</text><text x="279.1" y="1335.6">LA</text><text x="178.1" y="1362.2">HI</text><text x="113.3" y="1363.0">AK</text></g></svg>
<div class="b" style="left:120.9px;top:1413.0px;width:7.6px;height:7.6px;background:#8c8c88;"></div>
<div class="t" style="left:131.10px;top:1413.00px;font-size:7.8px;transform:scaleX(0.9971);transform-origin:0 0;">Noch nicht ausgezählt</div>
<div class="b" style="left:214.7px;top:1413.0px;width:7.6px;height:7.6px;background:#00876c;"></div>
<div class="t" style="left:224.90px;top:1413.00px;font-size:7.8px;">Auszählung läuft</div>
<div class="b" style="left:291.0px;top:1413.0px;width:7.6px;height:7.6px;background:#e6c315;"></div>
<div class="t" style="left:301.20px;top:1413.00px;font-size:7.8px;transform:scaleX(0.9836);transform-origin:0 0;">Kopf-an-Kopf</div>
<div class="b" style="left:354.5px;top:1413.0px;width:7.6px;height:7.6px;background:#0038c8;"></div>
<div class="t" style="left:364.70px;top:1413.00px;font-size:7.8px;transform:scaleX(0.9634);transform-origin:0 0;">Kamala Harris</div>
<div class="b" style="left:420.4px;top:1413.0px;width:7.6px;height:7.6px;background:#bd1b21;"></div>
<div class="t" style="left:430.60px;top:1413.00px;font-size:7.8px;transform:scaleX(0.9901);transform-origin:0 0;">Donald Trump</div>
<div class="b" style="left:47.4px;top:1426.5px;width:505.20000000000005px;height:1px;background:#e6e6e6;"></div>
<div class="t" style="left:47.40px;top:1431.41px;font-size:7.2px;color:#444;transform:scaleX(0.9031);transform-origin:0 0;">Quelle: NEP/Edison via Reuters</div>
</section>
<section class="sec" aria-label="Wahl des Repräsentantenhauses"><div class="card" style="top:1461.2px;height:729.1px"></div>
<h2 class="t" style="left:108.55px;top:1484.90px;font-size:20.2px;color:#155a9f;transform:scaleX(0.8739);transform-origin:50% 0;">WAHL DES REPRÄSENTANTENHAUSES</h2>
<svg role="img" aria-label="Sitzverteilung" style="left:83.5px;top:1515.8px" width="130" height="130" viewBox="-65 -65 130 130"><circle r="51.55" fill="none" stroke="#e3e3e3" stroke-width="24.30"/><circle r="51.55" fill="none" stroke="#d81e28" stroke-width="24.30" stroke-dasharray="32.76 323.90" transform="rotate(-90)"/><circle r="51.55" fill="none" stroke="#0038c8" stroke-width="24.30" stroke-dasharray="46.16 323.90" transform="rotate(-141.31)"/></svg>
<div class="t" style="left:127.21px;top:1569.90px;font-size:25.4px;transform:scaleX(1.0643);transform-origin:50% 0;">435</div>
<div class="b" style="left:148px;top:1620.6px;width:0;height:23px;border-left:1px dotted #333"></div>
<div class="t" style="left:133.23px;top:1654.80px;font-size:7.8px;transform:scaleX(1.1007);transform-origin:50% 0;">Mehrheit</div>
<div class="b" style="left:250.2px;top:1593.6999999999998px;width:302.40000000000003px;height:1px;background:#e6e6e6;"></div>
<div class="b" style="left:250.2px;top:1621.8999999999999px;width:302.40000000000003px;height:1px;background:#e6e6e6;"></div>
<svg role="img" aria-label="Demokraten" style="left:271.5px;top:1532.8px" width="56" height="56" viewBox="-28 -28 56 56"><circle r="24.2" fill="#fff" stroke="#0038c8" stroke-width="5.8"/><text x="0.9" y="10.4" text-anchor="middle" font-family="Liberation Sans, sans-serif" font-weight="700" font-size="29.5" fill="#0038c8" stroke="#0038c8" stroke-width="1.3" stroke-linejoin="round">D</text></svg>
<svg role="img" aria-label="Offen" style="left:375.3px;top:1528.8px" width="50" height="60" viewBox="-25 -32 50 60"><text transform="translate(0.3 23.4) scale(0.78 0.97)" text-anchor="middle" font-family="Liberation Sans, sans-serif" font-weight="700" font-size="64" fill="#d2d2d2" stroke="#d2d2d2" stroke-width="1.6" stroke-linejoin="round">?</text></svg>
<svg role="img" aria-label="Republikaner" style="left:452.1px;top:1538.1px" width="100.5" height="44.6" viewBox="0 0 100.5 44.6"><rect width="100.5" height="44.6" fill="#dc0a2d"/><text x="10.8" y="33.5" font-family="Liberation Sans, sans-serif" font-weight="700" font-size="31" fill="#fff" stroke="#fff" stroke-width="1.0" stroke-linejoin="round" textLength="71" lengthAdjust="spacingAndGlyphs">GOP</text><circle cx="85.2" cy="30.0" r="3.3" fill="none" stroke="#fff" stroke-width="0.8"/><rect x="83.4" y="28.7" width="3.6" height="2.6" rx="0.8" fill="#fff"/></svg>
<div class="t" style="left:289.16px;top:1600.16px;font-size:18.6px;transform:scaleX(1.0441);transform-origin:50% 0;">62</div>
<div class="t" style="left:278.27px;top:1628.30px;font-size:7.8px;transform:scaleX(1.0596);transform-origin:50% 0;">Demokraten</div>
<div class="t" style="left:384.78px;top:1600.16px;font-size:18.6px;">329</div>
<div class="t" style="left:390.83px;top:1628.30px;font-size:7.8px;transform:scaleX(1.0772);transform-origin:50% 0;">Offen</div>
<div class="t" style="left:491.56px;top:1600.16px;font-size:18.6px;transform:scaleX(1.0441);transform-origin:50% 0;">44</div>
<div class="t" style="left:478.92px;top:1628.30px;font-size:7.8px;transform:scaleX(1.0337);transform-origin:50% 0;">Republikaner</div>
<div class="b" style="left:47.4px;top:1670.6px;width:505.20000000000005px;height:1px;background:#e6e6e6;"></div>
<div class="b" style="left:47.4px;top:1678.4px;width:26.0px;height:12.8px;background:#0b5394;"></div>
<div class="t" style="left:51.95px;top:1681.27px;font-size:7.6px;color:#fff;transform:scaleX(1.0174);transform-origin:50% 0;">2024</div>
<div class="b" style="left:77.7px;top:1678.4px;width:26.0px;height:12.8px;background:#e3e3e3;"></div>
<div class="t" style="left:82.25px;top:1681.27px;font-size:7.6px;transform:scaleX(1.0174);transform-origin:50% 0;">2022</div>
<div class="b" style="left:108.0px;top:1678.4px;width:26.0px;height:12.8px;background:#e3e3e3;"></div>
<div class="t" style="left:112.55px;top:1681.27px;font-size:7.6px;transform:scaleX(1.0174);transform-origin:50% 0;">2020</div>
<div class="b" style="left:138.4px;top:1678.4px;width:26.0px;height:12.8px;background:#e3e3e3;"></div>
<div class="t" style="left:142.95px;top:1681.27px;font-size:7.6px;transform:scaleX(1.0174);transform-origin:50% 0;">2018</div>
<div class="b" style="left:168.7px;top:1678.4px;width:26.0px;height:12.8px;background:#e3e3e3;"></div>
<div class="t" style="left:173.25px;top:1681.27px;font-size:7.6px;transform:scaleX(1.0174);transform-origin:50% 0;">2016</div>
<div class="t" style="left:450.73px;top:1681.91px;font-size:7.2px;color:#444;transform:scaleX(0.9031);transform-origin:100% 0;">Quelle: NEP/Edison via Reuters</div>
<h3 class="t" style="left:131.50px;top:1722.23px;font-size:12.6px;color:#1b62a8;transform:scaleX(0.9905);transform-origin:0 0;">Ergebnisse der Repräsentantenhauswahl in den</h3>
<h3 class="t" style="left:131.50px;top:1736.43px;font-size:12.6px;color:#1b62a8;transform:scaleX(0.9972);transform-origin:0 0;">Bundesstaaten</h3>
<p class="t" style="left:131.50px;top:1760.34px;font-size:9.4px;transform:scaleX(1.0422);transform-origin:0 0;">Die 435 Sitze im Repräsentantenhaus werden durch Wahlen in</p>
<p class="t" style="left:131.50px;top:1773.14px;font-size:9.4px;transform:scaleX(1.0470);transform-origin:0 0;">Stimmbezirken in den Bundesstaaten gewählt. Für die Präsidentschaft ist ein</p>
<p class="t" style="left:131.50px;top:1785.94px;font-size:9.4px;transform:scaleX(1.0422);transform-origin:0 0;">wichtiger Faktor, ob es im Repräsentantenhaus eine Mehrheit von</p>
<p class="t" style="left:131.50px;top:1798.74px;font-size:9.4px;transform:scaleX(1.0395);transform-origin:0 0;">Abgeordneten der eigenen Partei gibt oder nicht. Wie sehen die</p>
<p class="t" style="left:131.50px;top:1811.54px;font-size:9.4px;transform:scaleX(1.0484);transform-origin:0 0;">Mehrheitsverhältnisse nach der Wahl aus und wie viele Abgeordnete der</p>
<p class="t" style="left:131.50px;top:1824.34px;font-size:9.4px;transform:scaleX(1.0461);transform-origin:0 0;">großen Parteien wurden in den Bundesstaaten gewählt?</p>
<h4 class="t" style="left:47.40px;top:1853.03px;font-size:10.6px;font-weight:700;color:#155a9f;transform:scaleX(1.0243);transform-origin:0 0;">Repräsentantenhaus 2024</h4>
<svg class="map" role="img" aria-label="Karte Repräsentantenhaus 2024" style="left:90.0px;top:1876.2px" width="430" height="266" viewBox="0 0 430 266"><g stroke="#fff" stroke-width="0.42" stroke-linejoin="round"><use href="#sWA" fill="#8c8c88"/><use href="#sOR" fill="#8c8c88"/><use href="#sCA" fill="#8c8c88"/><use href="#sNV" fill="#8c8c88"/><use href="#sID" fill="#8c8c88"/><use href="#sMT" fill="#8c8c88"/><use href="#sWY" fill="#8c8c88"/><use href="#sUT" fill="#8c8c88"/><use href="#sCO" fill="#8c8c88"/><use href="#sAZ" fill="#8c8c88"/><use href="#sNM" fill="#8c8c88"/><use href="#sTX" fill="#4d88ff"/><use href="#sOK" fill="#4d88ff"/><use href="#sKS" fill="#ff5064"/><use href="#sNE" fill="#8c8c88"/><use href="#sSD" fill="#8c8c88"/><use href="#sND" fill="#8c8c88"/><use href="#sMN" fill="#8c8c88"/><use href="#sIA" fill="#8c8c88"/><use href="#sMO" fill="#8c8c88"/><use href="#sAR" fill="#8c8c88"/><use href="#sLA" fill="#8c8c88"/><use href="#sMS" fill="#8c8c88"/><use href="#sAL" fill="#8c8c88"/><use href="#sFL" fill="#4d88ff"/><use href="#sGA" fill="#4d88ff"/><use href="#sSC" fill="#4d88ff"/><use href="#sNC" fill="#4d88ff"/><use href="#sTN" fill="#4d88ff"/><use href="#sKY" fill="#0038c8"/><use href="#sVA" fill="#ff5064"/><use href="#sWV" fill="#4d88ff"/><use href="#sMD" fill="#8c8c88"/><use href="#sDE" fill="#8c8c88"/><use href="#sNJ" fill="#4d88ff"/><use href="#sPA" fill="#ff5064"/><use href="#sNY" fill="#8c8c88"/><use href="#sCT" fill="#8c8c88"/><use href="#sRI" fill="#8c8c88"/><use href="#sMA" fill="#8c8c88"/><use href="#sVT" fill="#8c8c88"/><use href="#sNH" fill="url(#stripe)"/><use href="#sME" fill="#8c8c88"/><use href="#sOH" fill="#ff5064"/><use href="#sIN" fill="#4d88ff"/><use href="#sIL" fill="#8c8c88"/><use href="#sWI" fill="#8c8c88"/><use href="#sMI" fill="#ff5064"/><use href="#sAK" fill="#8c8c88"/><use href="#sHI" fill="#8c8c88"/><use href="#sDC" fill="#8c8c88"/></g><g stroke="#a8a8a8" stroke-width="0.7" fill="none"><path d="M393.3 69.6L407.6 88.1"/><path d="M377.3 107.0L407.6 106.4"/><path d="M377.0 111.2L407.6 125.3"/></g><circle cx="407.6" cy="88.1" r="6.8" fill="#8c8c88"/><circle cx="407.6" cy="106.4" r="6.8" fill="#8c8c88"/><circle cx="407.6" cy="125.3" r="6.8" fill="#8c8c88"/><g font-family="Liberation Sans, sans-serif" font-size="6.8" fill="#fff" fill-opacity="0.93" stroke="#fff" stroke-width="0.1" text-anchor="middle"><text x="53.7" y="24.0">WA</text><text x="39.8" y="54.2">OR</text><text x="30.2" y="129.9">CA</text><text x="58.3" y="106.8">NV</text><text x="86.0" y="68.0">ID</text><text x="122.3" y="42.4">MT</text><text x="131.9" y="81.6">WY</text><text x="96.3" y="118.5">UT</text><text x="140.8" y="125.3">CO</text><text x="87.8" y="164.3">AZ</text><text x="134.0" y="166.7">NM</text><text x="189.4" y="198.7">TX</text><text x="205.4" y="164.3">OK</text><text x="198.3" y="132.4">KS</text><text x="177.7" y="102.2">NE</text><text x="184.1" y="72.7">SD</text><text x="185.2" y="43.2">ND</text><text x="226.4" y="56.0">MN</text><text x="234.9" y="95.1">IA</text><text x="245.6" y="133.7">MO</text><text x="245.6" y="168.5">AR</text><text x="246.7" y="198.7">LA</text><text x="269.4" y="185.2">MS</text><text x="294.7" y="185.0">AL</text><text x="349.1" y="233.4">FL</text><text x="324.3" y="185.0">GA</text><text x="343.1" y="169.0">SC</text><text x="354.1" y="148.7">NC</text><text x="295.1" y="155.9">TN</text><text x="306.7" y="136.7">KY</text><text x="357.1" y="128.8">VA</text><text x="331.9" y="122.8">WV</text><text x="375.6" y="95.1">NJ</text><text x="355.0" y="95.1">PA</text><text x="368.5" y="72.0">NY</text><text x="385.2" y="74.1">CT</text><text x="391.3" y="64.8">MA</text><text x="376.7" y="47.8">VT</text><text x="386.6" y="54.2">NH</text><text x="399.8" y="33.2">ME</text><text x="315.5" y="108.9">OH</text><text x="292.5" y="113.9">IN</text><text x="269.4" y="113.9">IL</text><text x="258.0" y="70.2">WI</text><text x="298.5" y="83.3">MI</text><text x="36.6" y="226.5">AK</text><text x="131.9" y="251.0">HI</text><text x="407.6" y="90.2">RI</text><text x="407.6" y="108.5">DE</text><text x="407.6" y="127.4">MD</text></g></svg>
<div class="b" style="left:104.3px;top:2149.4px;width:7.6px;height:7.6px;background:#8c8c88;"></div>
<div class="t" style="left:114.50px;top:2149.40px;font-size:7.8px;transform:scaleX(0.9789);transform-origin:0 0;">Noch nicht ausgezählt</div>
<div class="b" style="left:197.6px;top:2149.4px;width:7.6px;height:7.6px;background:#0038c8;"></div>
<div class="t" style="left:207.80px;top:2149.40px;font-size:7.8px;transform:scaleX(0.9890);transform-origin:0 0;">Demokraten</div>
<div class="b" style="left:258.8px;top:2149.4px;width:7.6px;height:7.6px;background:#4d88ff;"></div>
<div class="t" style="left:269.00px;top:2149.40px;font-size:7.8px;transform:scaleX(0.9916);transform-origin:0 0;">Dem führend</div>
<svg style="left:322.70px;top:2149.40px" width="7.6" height="7.6" viewBox="0 0 8 8"><rect width="8" height="8" fill="#ff5064"/><path d="M-1 3 L3 -1 M-1 7 L7 -1 M1 9 L9 1 M5 9 L9 5" stroke="#4d88ff" stroke-width="1.4"/></svg>
<div class="t" style="left:332.90px;top:2149.40px;font-size:7.8px;transform:scaleX(0.9736);transform-origin:0 0;">Gleichstand</div>
<div class="b" style="left:382.0px;top:2149.4px;width:7.6px;height:7.6px;background:#ff5064;"></div>
<div class="t" style="left:392.20px;top:2149.40px;font-size:7.8px;transform:scaleX(0.9552);transform-origin:0 0;">Rep führend</div>
<div class="b" style="left:441.7px;top:2149.4px;width:7.6px;height:7.6px;background:#bd1b21;"></div>
<div class="t" style="left:451.90px;top:2149.40px;font-size:7.8px;transform:scaleX(0.9640);transform-origin:0 0;">Republikaner</div>
<div class="b" style="left:47.4px;top:2163.3px;width:505.20000000000005px;height:1px;background:#e6e6e6;"></div>
<div class="t" style="left:47.40px;top:2168.21px;font-size:7.2px;color:#444;transform:scaleX(0.9031);transform-origin:0 0;">Quelle: NEP/Edison via Reuters</div>
</section>
<section class="sec" aria-label="Wahl des Senats"><div class="card" style="top:2197.8px;height:237.7px"></div>
<h2 class="t" style="left:205.59px;top:2221.90px;font-size:20.2px;color:#155a9f;transform:scaleX(0.8712);transform-origin:50% 0;">WAHL DES SENATS</h2>
<svg style="left:80px;top:2256px" width="140" height="118" viewBox="80 2256 140 118"><circle cx="88.2" cy="2264.4" r="2.45" fill="#fff" stroke="#0038c8" stroke-width="1.7"/><circle cx="88.2" cy="2275.5" r="2.45" fill="#fff" stroke="#0038c8" stroke-width="1.7"/><circle cx="88.2" cy="2286.6" r="2.45" fill="#fff" stroke="#0038c8" stroke-width="1.7"/><circle cx="88.2" cy="2297.7" r="2.45" fill="#fff" stroke="#0038c8" stroke-width="1.7"/><circle cx="88.2" cy="2308.8" r="2.45" fill="#fff" stroke="#0038c8" stroke-width="1.7"/><circle cx="88.2" cy="2320.0" r="2.45" fill="#fff" stroke="#0038c8" stroke-width="1.7"/><circle cx="88.2" cy="2331.1" r="2.45" fill="#fff" stroke="#0038c8" stroke-width="1.7"/><circle cx="88.2" cy="2342.2" r="2.45" fill="#fff" stroke="#0038c8" stroke-width="1.7"/><circle cx="88.2" cy="2353.3" r="2.45" fill="#fff" stroke="#0038c8" stroke-width="1.7"/><circle cx="88.2" cy="2364.4" r="2.45" fill="#fff" stroke="#0038c8" stroke-width="1.7"/><circle cx="101.8" cy="2264.4" r="2.45" fill="#fff" stroke="#0038c8" stroke-width="1.7"/><circle cx="101.8" cy="2275.5" r="2.45" fill="#fff" stroke="#0038c8" stroke-width="1.7"/><circle cx="101.8" cy="2286.6" r="2.45" fill="#fff" stroke="#0038c8" stroke-width="1.7"/><circle cx="101.8" cy="2297.7" r="2.45" fill="#fff" stroke="#0038c8" stroke-width="1.7"/><circle cx="101.8" cy="2308.8" r="2.45" fill="#fff" stroke="#0038c8" stroke-width="1.7"/><circle cx="101.8" cy="2320.0" r="2.45" fill="#fff" stroke="#0038c8" stroke-width="1.7"/><circle cx="101.8" cy="2331.1" r="2.45" fill="#fff" stroke="#0038c8" stroke-width="1.7"/><circle cx="101.8" cy="2342.2" r="2.45" fill="#fff" stroke="#0038c8" stroke-width="1.7"/><circle cx="101.8" cy="2353.3" r="2.45" fill="#fff" stroke="#0038c8" stroke-width="1.7"/><circle cx="101.8" cy="2364.4" r="2.45" fill="#fff" stroke="#0038c8" stroke-width="1.7"/><circle cx="115.4" cy="2264.4" r="2.45" fill="#fff" stroke="#0038c8" stroke-width="1.7"/><circle cx="115.4" cy="2275.5" r="2.45" fill="#fff" stroke="#0038c8" stroke-width="1.7"/><circle cx="115.4" cy="2286.6" r="2.45" fill="#fff" stroke="#0038c8" stroke-width="1.7"/><circle cx="115.4" cy="2297.7" r="2.45" fill="#fff" stroke="#0038c8" stroke-width="1.7"/><circle cx="115.4" cy="2308.8" r="2.45" fill="#fff" stroke="#0038c8" stroke-width="1.7"/><circle cx="115.4" cy="2320.0" r="2.45" fill="#fff" stroke="#0038c8" stroke-width="1.7"/><circle cx="115.4" cy="2331.1" r="2.45" fill="#fff" stroke="#0038c8" stroke-width="1.7"/><circle cx="115.4" cy="2342.2" r="2.45" fill="#fff" stroke="#0038c8" stroke-width="1.7"/><circle cx="115.4" cy="2353.3" r="3.2" fill="#e3e3e3"/><circle cx="115.4" cy="2364.4" r="3.2" fill="#e3e3e3"/><circle cx="128.9" cy="2264.4" r="3.2" fill="#e3e3e3"/><circle cx="128.9" cy="2275.5" r="3.2" fill="#e3e3e3"/><circle cx="128.9" cy="2286.6" r="3.2" fill="#e3e3e3"/><circle cx="128.9" cy="2297.7" r="3.2" fill="#e3e3e3"/><circle cx="128.9" cy="2308.8" r="3.2" fill="#e3e3e3"/><circle cx="128.9" cy="2320.0" r="3.2" fill="#e3e3e3"/><circle cx="128.9" cy="2331.1" r="3.2" fill="#e3e3e3"/><circle cx="128.9" cy="2342.2" r="3.2" fill="#e3e3e3"/><circle cx="128.9" cy="2353.3" r="3.2" fill="#e3e3e3"/><circle cx="128.9" cy="2364.4" r="3.2" fill="#e3e3e3"/><circle cx="142.5" cy="2264.4" r="3.2" fill="#e3e3e3"/><circle cx="142.5" cy="2275.5" r="3.2" fill="#e3e3e3"/><circle cx="142.5" cy="2286.6" r="3.2" fill="#e3e3e3"/><circle cx="142.5" cy="2297.7" r="3.2" fill="#e3e3e3"/><circle cx="142.5" cy="2308.8" r="3.2" fill="#e3e3e3"/><circle cx="142.5" cy="2320.0" r="3.2" fill="#e3e3e3"/><circle cx="142.5" cy="2331.1" r="3.2" fill="#e3e3e3"/><circle cx="142.5" cy="2342.2" r="3.2" fill="#e3e3e3"/><circle cx="142.5" cy="2353.3" r="3.2" fill="#e3e3e3"/><circle cx="142.5" cy="2364.4" r="3.2" fill="#e3e3e3"/><circle cx="156.1" cy="2264.4" r="3.2" fill="#e3e3e3"/><circle cx="156.1" cy="2275.5" r="3.2" fill="#e3e3e3"/><circle cx="156.1" cy="2286.6" r="3.2" fill="#e3e3e3"/><circle cx="156.1" cy="2297.7" r="3.2" fill="#e3e3e3"/><circle cx="156.1" cy="2308.8" r="3.2" fill="#e3e3e3"/><circle cx="156.1" cy="2320.0" r="3.2" fill="#e3e3e3"/><circle cx="156.1" cy="2331.1" r="3.2" fill="#e3e3e3"/><circle cx="156.1" cy="2342.2" r="3.2" fill="#e3e3e3"/><circle cx="156.1" cy="2353.3" r="3.2" fill="#e3e3e3"/><circle cx="156.1" cy="2364.4" r="3.2" fill="#e3e3e3"/><circle cx="169.7" cy="2264.4" r="3.9" fill="#dc1e28"/><circle cx="169.7" cy="2275.5" r="3.9" fill="#dc1e28"/><circle cx="169.7" cy="2286.6" r="2.45" fill="#fff" stroke="#dc1e28" stroke-width="1.7"/><circle cx="169.7" cy="2297.7" r="2.45" fill="#fff" stroke="#dc1e28" stroke-width="1.7"/><circle cx="169.7" cy="2308.8" r="2.45" fill="#fff" stroke="#dc1e28" stroke-width="1.7"/><circle cx="169.7" cy="2320.0" r="2.45" fill="#fff" stroke="#dc1e28" stroke-width="1.7"/><circle cx="169.7" cy="2331.1" r="2.45" fill="#fff" stroke="#dc1e28" stroke-width="1.7"/><circle cx="169.7" cy="2342.2" r="2.45" fill="#fff" stroke="#dc1e28" stroke-width="1.7"/><circle cx="169.7" cy="2353.3" r="2.45" fill="#fff" stroke="#dc1e28" stroke-width="1.7"/><circle cx="169.7" cy="2364.4" r="2.45" fill="#fff" stroke="#dc1e28" stroke-width="1.7"/><circle cx="183.3" cy="2264.4" r="2.45" fill="#fff" stroke="#dc1e28" stroke-width="1.7"/><circle cx="183.3" cy="2275.5" r="2.45" fill="#fff" stroke="#dc1e28" stroke-width="1.7"/><circle cx="183.3" cy="2286.6" r="2.45" fill="#fff" stroke="#dc1e28" stroke-width="1.7"/><circle cx="183.3" cy="2297.7" r="2.45" fill="#fff" stroke="#dc1e28" stroke-width="1.7"/><circle cx="183.3" cy="2308.8" r="2.45" fill="#fff" stroke="#dc1e28" stroke-width="1.7"/><circle cx="183.3" cy="2320.0" r="2.45" fill="#fff" stroke="#dc1e28" stroke-width="1.7"/><circle cx="183.3" cy="2331.1" r="2.45" fill="#fff" stroke="#dc1e28" stroke-width="1.7"/><circle cx="183.3" cy="2342.2" r="2.45" fill="#fff" stroke="#dc1e28" stroke-width="1.7"/><circle cx="183.3" cy="2353.3" r="2.45" fill="#fff" stroke="#dc1e28" stroke-width="1.7"/><circle cx="183.3" cy="2364.4" r="2.45" fill="#fff" stroke="#dc1e28" stroke-width="1.7"/><circle cx="196.8" cy="2264.4" r="2.45" fill="#fff" stroke="#dc1e28" stroke-width="1.7"/><circle cx="196.8" cy="2275.5" r="2.45" fill="#fff" stroke="#dc1e28" stroke-width="1.7"/><circle cx="196.8" cy="2286.6" r="2.45" fill="#fff" stroke="#dc1e28" stroke-width="1.7"/><circle cx="196.8" cy="2297.7" r="2.45" fill="#fff" stroke="#dc1e28" stroke-width="1.7"/><circle cx="196.8" cy="2308.8" r="2.45" fill="#fff" stroke="#dc1e28" stroke-width="1.7"/><circle cx="196.8" cy="2320.0" r="2.45" fill="#fff" stroke="#dc1e28" stroke-width="1.7"/><circle cx="196.8" cy="2331.1" r="2.45" fill="#fff" stroke="#dc1e28" stroke-width="1.7"/><circle cx="196.8" cy="2342.2" r="2.45" fill="#fff" stroke="#dc1e28" stroke-width="1.7"/><circle cx="196.8" cy="2353.3" r="2.45" fill="#fff" stroke="#dc1e28" stroke-width="1.7"/><circle cx="196.8" cy="2364.4" r="2.45" fill="#fff" stroke="#dc1e28" stroke-width="1.7"/><circle cx="210.4" cy="2264.4" r="2.45" fill="#fff" stroke="#dc1e28" stroke-width="1.7"/><circle cx="210.4" cy="2275.5" r="2.45" fill="#fff" stroke="#dc1e28" stroke-width="1.7"/><circle cx="210.4" cy="2286.6" r="2.45" fill="#fff" stroke="#dc1e28" stroke-width="1.7"/><circle cx="210.4" cy="2297.7" r="2.45" fill="#fff" stroke="#dc1e28" stroke-width="1.7"/><circle cx="210.4" cy="2308.8" r="2.45" fill="#fff" stroke="#dc1e28" stroke-width="1.7"/><circle cx="210.4" cy="2320.0" r="2.45" fill="#fff" stroke="#dc1e28" stroke-width="1.7"/><circle cx="210.4" cy="2331.1" r="2.45" fill="#fff" stroke="#dc1e28" stroke-width="1.7"/><circle cx="210.4" cy="2342.2" r="2.45" fill="#fff" stroke="#dc1e28" stroke-width="1.7"/><circle cx="210.4" cy="2353.3" r="2.45" fill="#fff" stroke="#dc1e28" stroke-width="1.7"/><circle cx="210.4" cy="2364.4" r="2.45" fill="#fff" stroke="#dc1e28" stroke-width="1.7"/></svg>
<div class="b" style="left:149px;top:2256.4px;width:0;height:116px;border-left:1px dotted #555"></div>
<div class="t" style="left:133.13px;top:2386.00px;font-size:7.8px;transform:scaleX(1.1040);transform-origin:50% 0;">Mehrheit</div>
<div class="b" style="left:250.2px;top:2335.2px;width:302.40000000000003px;height:1px;background:#e6e6e6;"></div>
<div class="b" style="left:250.2px;top:2363.4px;width:302.40000000000003px;height:1px;background:#e6e6e6;"></div>
<svg role="img" aria-label="Demokraten" style="left:271.5px;top:2274.2999999999997px" width="56" height="56" viewBox="-28 -28 56 56"><circle r="24.2" fill="#fff" stroke="#0038c8" stroke-width="5.8"/><text x="0.9" y="10.4" text-anchor="middle" font-family="Liberation Sans, sans-serif" font-weight="700" font-size="29.5" fill="#0038c8" stroke="#0038c8" stroke-width="1.3" stroke-linejoin="round">D</text></svg>
<svg role="img" aria-label="Offen" style="left:375.3px;top:2270.2999999999997px" width="50" height="60" viewBox="-25 -32 50 60"><text transform="translate(0.3 23.4) scale(0.78 0.97)" text-anchor="middle" font-family="Liberation Sans, sans-serif" font-weight="700" font-size="64" fill="#d2d2d2" stroke="#d2d2d2" stroke-width="1.6" stroke-linejoin="round">?</text></svg>
<svg role="img" aria-label="Republikaner" style="left:452.1px;top:2279.6px" width="100.5" height="44.6" viewBox="0 0 100.5 44.6"><rect width="100.5" height="44.6" fill="#dc0a2d"/><text x="10.8" y="33.5" font-family="Liberation Sans, sans-serif" font-weight="700" font-size="31" fill="#fff" stroke="#fff" stroke-width="1.0" stroke-linejoin="round" textLength="71" lengthAdjust="spacingAndGlyphs">GOP</text><circle cx="85.2" cy="30.0" r="3.3" fill="none" stroke="#fff" stroke-width="0.8"/><rect x="83.4" y="28.7" width="3.6" height="2.6" rx="0.8" fill="#fff"/></svg>
<div class="t" style="left:289.16px;top:2341.66px;font-size:18.6px;transform:scaleX(1.0441);transform-origin:50% 0;">28</div>
<div class="t" style="left:278.27px;top:2369.80px;font-size:7.8px;transform:scaleX(1.0596);transform-origin:50% 0;">Demokraten</div>
<div class="t" style="left:389.96px;top:2341.66px;font-size:18.6px;transform:scaleX(1.0441);transform-origin:50% 0;">32</div>
<div class="t" style="left:390.83px;top:2369.80px;font-size:7.8px;transform:scaleX(1.0772);transform-origin:50% 0;">Offen</div>
<div class="t" style="left:491.56px;top:2341.66px;font-size:18.6px;transform:scaleX(1.0441);transform-origin:50% 0;">40</div>
<div class="t" style="left:493.23px;top:2369.80px;font-size:7.8px;transform:scaleX(0.9514);transform-origin:50% 0;">GOP</div>
<div class="b" style="left:47.4px;top:2401.2px;width:505.20000000000005px;height:1px;background:#e6e6e6;"></div>
<div class="b" style="left:47.4px;top:2409.0px;width:26.0px;height:12.8px;background:#0b5394;"></div>
<div class="t" style="left:51.95px;top:2411.87px;font-size:7.6px;color:#fff;transform:scaleX(1.0174);transform-origin:50% 0;">2024</div>
<div class="b" style="left:77.7px;top:2409.0px;width:26.0px;height:12.8px;background:#e3e3e3;"></div>
<div class="t" style="left:82.25px;top:2411.87px;font-size:7.6px;transform:scaleX(1.0174);transform-origin:50% 0;">2022</div>
<div class="b" style="left:108.0px;top:2409.0px;width:26.0px;height:12.8px;background:#e3e3e3;"></div>
<div class="t" style="left:112.55px;top:2411.87px;font-size:7.6px;transform:scaleX(1.0174);transform-origin:50% 0;">2020</div>
<div class="b" style="left:138.4px;top:2409.0px;width:26.0px;height:12.8px;background:#e3e3e3;"></div>
<div class="t" style="left:142.95px;top:2411.87px;font-size:7.6px;transform:scaleX(1.0174);transform-origin:50% 0;">2018</div>
<div class="b" style="left:168.7px;top:2409.0px;width:26.0px;height:12.8px;background:#e3e3e3;"></div>
<div class="t" style="left:173.25px;top:2411.87px;font-size:7.6px;transform:scaleX(1.0174);transform-origin:50% 0;">2016</div>
<div class="t" style="left:450.73px;top:2412.51px;font-size:7.2px;color:#444;transform:scaleX(0.9031);transform-origin:100% 0;">Quelle: NEP/Edison via Reuters</div>
</section>
<section class="sec" aria-label="Senatswahl in den Bundesstaaten"><div class="card" style="top:2443.2px;height:470.8px"></div>
<h3 class="t" style="left:131.50px;top:2460.33px;font-size:12.6px;color:#1b62a8;transform:scaleX(0.9862);transform-origin:0 0;">Ergebnisse der Senatswahl in den Bundesstaaten</h3>
<p class="t" style="left:131.50px;top:2483.84px;font-size:9.4px;transform:scaleX(1.0383);transform-origin:0 0;">Etwa ein Drittel der 100 Senatssitze wird alle zwei Jahre neu gewählt. Jeder</p>
<p class="t" style="left:131.50px;top:2496.64px;font-size:9.4px;transform:scaleX(1.0399);transform-origin:0 0;">Bundesstaat entsendet zwei Senatorinnen oder Senatoren in diese</p>
<p class="t" style="left:131.50px;top:2509.44px;font-size:9.4px;transform:scaleX(1.0412);transform-origin:0 0;">Kongresskammer. Die Mehrheitsverhältnisse im Senat spielen für die</p>
<p class="t" style="left:131.50px;top:2522.24px;font-size:9.4px;transform:scaleX(1.0374);transform-origin:0 0;">jeweilige Präsidentschaft eine große Rolle bei vielen</p>
<p class="t" style="left:131.50px;top:2535.04px;font-size:9.4px;transform:scaleX(1.0235);transform-origin:0 0;">Gesetzgebungsvorhaben. Wie sehen die Ergebnisse der Wahlen um die</p>
<p class="t" style="left:131.50px;top:2547.84px;font-size:9.4px;transform:scaleX(1.0241);transform-origin:0 0;">Senatssitze 2024 in den Bundesstaaten aus?</p>
<h4 class="t" style="left:47.40px;top:2576.63px;font-size:10.6px;font-weight:700;color:#155a9f;transform:scaleX(1.0477);transform-origin:0 0;">Senat 2024</h4>
<svg class="map" role="img" aria-label="Karte Senat 2024" style="left:90.0px;top:2600.0px" width="430" height="266" viewBox="0 0 430 266"><g stroke="#fff" stroke-width="0.42" stroke-linejoin="round"><use href="#sWA" fill="#8c8c88"/><use href="#sOR" fill="#8c8c88"/><use href="#sCA" fill="#8c8c88"/><use href="#sNV" fill="#8c8c88"/><use href="#sID" fill="#c0c0be"/><use href="#sMT" fill="#8c8c88"/><use href="#sWY" fill="#8c8c88"/><use href="#sUT" fill="#8c8c88"/><use href="#sCO" fill="#c0c0be"/><use href="#sAZ" fill="#8c8c88"/><use href="#sNM" fill="#8c8c88"/><use href="#sTX" fill="#8c8c88"/><use href="#sOK" fill="#c0c0be"/><use href="#sKS" fill="#c0c0be"/><use href="#sNE" fill="#8c8c88"/><use href="#sSD" fill="#8c8c88"/><use href="#sND" fill="#8c8c88"/><use href="#sMN" fill="#8c8c88"/><use href="#sIA" fill="#c0c0be"/><use href="#sMO" fill="#8c8c88"/><use href="#sAR" fill="#c0c0be"/><use href="#sLA" fill="#c0c0be"/><use href="#sMS" fill="#8c8c88"/><use href="#sAL" fill="#c0c0be"/><use href="#sFL" fill="#8c8c88"/><use href="#sGA" fill="#c0c0be"/><use href="#sSC" fill="#c0c0be"/><use href="#sNC" fill="#c0c0be"/><use href="#sTN" fill="#8c8c88"/><use href="#sKY" fill="#c0c0be"/><use href="#sVA" fill="#8c8c88"/><use href="#sWV" fill="#c4161c"/><use href="#sMD" fill="#8c8c88"/><use href="#sDE" fill="#8c8c88"/><use href="#sNJ" fill="#8c8c88"/><use href="#sPA" fill="#8c8c88"/><use href="#sNY" fill="#8c8c88"/><use href="#sCT" fill="#8c8c88"/><use href="#sRI" fill="#c0c0be"/><use href="#sMA" fill="#8c8c88"/><use href="#sVT" fill="#8c8c88"/><use href="#sNH" fill="#c0c0be"/><use href="#sME" fill="#8c8c88"/><use href="#sOH" fill="#8c8c88"/><use href="#sIN" fill="#c4161c"/><use href="#sIL" fill="#c0c0be"/><use href="#sWI" fill="#8c8c88"/><use href="#sMI" fill="#8c8c88"/><use href="#sAK" fill="#c0c0be"/><use href="#sHI" fill="#8c8c88"/><use href="#sDC" fill="#8c8c88"/></g><rect x="189.1" y="94.7" width="20.9" height="19.9" fill="#8c8c88" stroke="#fff" stroke-width="0.6"/><text x="199.6" y="107.4" font-family="Liberation Sans, sans-serif" font-size="6.7" fill="#fff" stroke="#fff" stroke-width="0.15" text-anchor="middle">NE2</text><g stroke="#a8a8a8" stroke-width="0.7" fill="none"><path d="M393.3 69.6L407.6 88.1"/><path d="M377.3 107.0L407.6 106.4"/><path d="M377.0 111.2L407.6 125.3"/></g><circle cx="407.6" cy="88.1" r="6.8" fill="#c0c0be"/><circle cx="407.6" cy="106.4" r="6.8" fill="#8c8c88"/><circle cx="407.6" cy="125.3" r="6.8" fill="#8c8c88"/><g font-family="Liberation Sans, sans-serif" font-size="6.8" fill="#fff" fill-opacity="0.93" stroke="#fff" stroke-width="0.1" text-anchor="middle"><text x="53.7" y="24.0">WA</text><text x="39.8" y="54.2">OR</text><text x="30.2" y="129.9">CA</text><text x="58.3" y="106.8">NV</text><text x="86.0" y="68.0">ID</text><text x="122.3" y="42.4">MT</text><text x="131.9" y="81.6">WY</text><text x="96.3" y="118.5">UT</text><text x="140.8" y="125.3">CO</text><text x="87.8" y="164.3">AZ</text><text x="134.0" y="166.7">NM</text><text x="189.4" y="198.7">TX</text><text x="205.4" y="164.3">OK</text><text x="198.3" y="132.4">KS</text><text x="177.7" y="102.2">NE</text><text x="184.1" y="72.7">SD</text><text x="185.2" y="43.2">ND</text><text x="226.4" y="56.0">MN</text><text x="234.9" y="95.1">IA</text><text x="245.6" y="133.7">MO</text><text x="245.6" y="168.5">AR</text><text x="246.7" y="198.7">LA</text><text x="269.4" y="185.2">MS</text><text x="294.7" y="185.0">AL</text><text x="349.1" y="233.4">FL</text><text x="324.3" y="185.0">GA</text><text x="343.1" y="169.0">SC</text><text x="354.1" y="148.7">NC</text><text x="295.1" y="155.9">TN</text><text x="306.7" y="136.7">KY</text><text x="357.1" y="128.8">VA</text><text x="331.9" y="122.8">WV</text><text x="375.6" y="95.1">NJ</text><text x="355.0" y="95.1">PA</text><text x="368.5" y="72.0">NY</text><text x="385.2" y="74.1">CT</text><text x="391.3" y="64.8">MA</text><text x="376.7" y="47.8">VT</text><text x="386.6" y="54.2">NH</text><text x="399.8" y="33.2">ME</text><text x="315.5" y="108.9">OH</text><text x="292.5" y="113.9">IN</text><text x="269.4" y="113.9">IL</text><text x="258.0" y="70.2">WI</text><text x="298.5" y="83.3">MI</text><text x="36.6" y="226.5">AK</text><text x="131.9" y="251.0">HI</text><text x="407.6" y="90.2">RI</text><text x="407.6" y="108.5">DE</text><text x="407.6" y="127.4">MD</text></g></svg>
<div class="b" style="left:49.8px;top:2873.2px;width:7.6px;height:7.6px;background:#c0c0be;"></div>
<div class="t" style="left:60.00px;top:2873.20px;font-size:7.8px;transform:scaleX(0.9623);transform-origin:0 0;">Keine Wahl</div>
<div class="b" style="left:106.6px;top:2873.2px;width:7.6px;height:7.6px;background:#8c8c88;"></div>
<div class="t" style="left:116.80px;top:2873.20px;font-size:7.8px;transform:scaleX(0.9789);transform-origin:0 0;">Noch nicht ausgezählt</div>
<div class="b" style="left:200.9px;top:2873.2px;width:7.6px;height:7.6px;background:#00876c;"></div>
<div class="t" style="left:211.10px;top:2873.20px;font-size:7.8px;transform:scaleX(0.9904);transform-origin:0 0;">Auszählung läuft</div>
<div class="b" style="left:277.3px;top:2873.2px;width:7.6px;height:7.6px;background:#e6c315;"></div>
<div class="t" style="left:287.50px;top:2873.20px;font-size:7.8px;transform:scaleX(0.9940);transform-origin:0 0;">Stichwahl erforderlich</div>
<div class="b" style="left:370.1px;top:2873.2px;width:7.6px;height:7.6px;background:#0038c8;"></div>
<div class="t" style="left:380.30px;top:2873.20px;font-size:7.8px;transform:scaleX(0.9890);transform-origin:0 0;">Demokraten</div>
<div class="b" style="left:431.3px;top:2873.2px;width:7.6px;height:7.6px;background:#bd1b21;"></div>
<div class="t" style="left:441.50px;top:2873.20px;font-size:7.8px;transform:scaleX(0.9640);transform-origin:0 0;">Republikaner</div>
<div class="b" style="left:494.3px;top:2873.2px;width:7.6px;height:7.6px;background:#7f7fb5;"></div>
<div class="t" style="left:504.50px;top:2873.20px;font-size:7.8px;transform:scaleX(0.9851);transform-origin:0 0;">Unabhängige</div>
<div class="b" style="left:47.4px;top:2887px;width:505.20000000000005px;height:1px;background:#e6e6e6;"></div>
<div class="t" style="left:47.40px;top:2891.71px;font-size:7.2px;color:#444;transform:scaleX(0.9031);transform-origin:0 0;">Quelle: NEP/Edison via Reuters</div>
</section>
<section class="sec" aria-label="Wahlen im Rückblick"><div class="card" style="top:2921.7px;height:441.1px"></div>
<h2 class="t" style="left:182.59px;top:2945.50px;font-size:20.2px;color:#155a9f;transform:scaleX(0.8986);transform-origin:50% 0;">WAHLEN IM RÜCKBLICK</h2>
<h4 class="t" style="left:47.40px;top:2982.63px;font-size:10.6px;font-weight:700;color:#155a9f;transform:scaleX(1.0361);transform-origin:0 0;">Demokraten: Gewonnene Präsidentschaftswahlen 1992-2020</h4>
<svg class="map" role="img" aria-label="Karte gewonnene Präsidentschaftswahlen der Demokraten 1992-2020" style="left:90.0px;top:3006.5px" width="430" height="266" viewBox="0 0 430 266"><g stroke="#fff" stroke-width="0.42" stroke-linejoin="round"><use href="#sWA" fill="#00175a"/><use href="#sOR" fill="#00175a"/><use href="#sCA" fill="#00175a"/><use href="#sNV" fill="#00309c"/><use href="#sID" fill="#5b8cff"/><use href="#sMT" fill="#4a80f5"/><use href="#sWY" fill="#5b8cff"/><use href="#sUT" fill="#5b8cff"/><use href="#sCO" fill="#0844c8"/><use href="#sAZ" fill="#3c74ee"/><use href="#sNM" fill="#001f78"/><use href="#sTX" fill="#5b8cff"/><use href="#sOK" fill="#5b8cff"/><use href="#sKS" fill="#5b8cff"/><use href="#sNE" fill="#5b8cff"/><use href="#sSD" fill="#5b8cff"/><use href="#sND" fill="#5b8cff"/><use href="#sMN" fill="#00175a"/><use href="#sIA" fill="#0844c8"/><use href="#sMO" fill="#3c74ee"/><use href="#sAR" fill="#3c74ee"/><use href="#sLA" fill="#3c74ee"/><use href="#sMS" fill="#5b8cff"/><use href="#sAL" fill="#5b8cff"/><use href="#sFL" fill="#2c62e0"/><use href="#sGA" fill="#3c74ee"/><use href="#sSC" fill="#5b8cff"/><use href="#sNC" fill="#4a80f5"/><use href="#sTN" fill="#3c74ee"/><use href="#sKY" fill="#3c74ee"/><use href="#sVA" fill="#1a52d4"/><use href="#sWV" fill="#3c74ee"/><use href="#sMD" fill="#00175a"/><use href="#sDE" fill="#00175a"/><use href="#sNJ" fill="#00175a"/><use href="#sPA" fill="#001f78"/><use href="#sNY" fill="#00175a"/><use href="#sCT" fill="#00175a"/><use href="#sRI" fill="#00175a"/><use href="#sMA" fill="#00175a"/><use href="#sVT" fill="#00175a"/><use href="#sNH" fill="#001f78"/><use href="#sME" fill="#00175a"/><use href="#sOH" fill="#1a52d4"/><use href="#sIN" fill="#4a80f5"/><use href="#sIL" fill="#00175a"/><use href="#sWI" fill="#001f78"/><use href="#sMI" fill="#001f78"/><use href="#sAK" fill="#5b8cff"/><use href="#sHI" fill="#00175a"/><use href="#sDC" fill="#00175a"/></g><g stroke="#a8a8a8" stroke-width="0.7" fill="none"><path d="M393.3 69.6L407.6 88.1"/><path d="M377.3 107.0L407.6 106.4"/><path d="M377.0 111.2L407.6 125.3"/></g><circle cx="407.6" cy="88.1" r="6.8" fill="#00175a"/><circle cx="407.6" cy="106.4" r="6.8" fill="#00175a"/><circle cx="407.6" cy="125.3" r="6.8" fill="#00175a"/><circle cx="407.6" cy="143.6" r="6.8" fill="#00175a"/><g font-family="Liberation Sans, sans-serif" font-size="6.8" fill="#fff" fill-opacity="0.93" stroke="#fff" stroke-width="0.1" text-anchor="middle"><text x="53.7" y="24.0">WA</text><text x="39.8" y="54.2">OR</text><text x="30.2" y="129.9">CA</text><text x="58.3" y="106.8">NV</text><text x="86.0" y="68.0">ID</text><text x="122.3" y="42.4">MT</text><text x="131.9" y="81.6">WY</text><text x="96.3" y="118.5">UT</text><text x="140.8" y="125.3">CO</text><text x="87.8" y="164.3">AZ</text><text x="134.0" y="166.7">NM</text><text x="189.4" y="198.7">TX</text><text x="205.4" y="164.3">OK</text><text x="198.3" y="132.4">KS</text><text x="177.7" y="102.2">NE</text><text x="184.1" y="72.7">SD</text><text x="185.2" y="43.2">ND</text><text x="226.4" y="56.0">MN</text><text x="234.9" y="95.1">IA</text><text x="245.6" y="133.7">MO</text><text x="245.6" y="168.5">AR</text><text x="246.7" y="198.7">LA</text><text x="269.4" y="185.2">MS</text><text x="294.7" y="185.0">AL</text><text x="349.1" y="233.4">FL</text><text x="324.3" y="185.0">GA</text><text x="343.1" y="169.0">SC</text><text x="354.1" y="148.7">NC</text><text x="295.1" y="155.9">TN</text><text x="306.7" y="136.7">KY</text><text x="357.1" y="128.8">VA</text><text x="331.9" y="122.8">WV</text><text x="375.6" y="95.1">NJ</text><text x="355.0" y="95.1">PA</text><text x="368.5" y="72.0">NY</text><text x="385.2" y="74.1">CT</text><text x="391.3" y="64.8">MA</text><text x="376.7" y="47.8">VT</text><text x="386.6" y="54.2">NH</text><text x="399.8" y="33.2">ME</text><text x="315.5" y="108.9">OH</text><text x="292.5" y="113.9">IN</text><text x="269.4" y="113.9">IL</text><text x="258.0" y="70.2">WI</text><text x="298.5" y="83.3">MI</text><text x="36.6" y="226.5">AK</text><text x="131.9" y="251.0">HI</text><text x="407.6" y="90.2">RI</text><text x="407.6" y="108.5">DE</text><text x="407.6" y="127.4">MD</text><text x="407.6" y="145.7">DC</text></g></svg>
<div class="b" style="left:166.6px;top:3279.1px;width:7.8px;height:7.6px;background:#5b8cff;"></div>
<div class="t" style="left:176.03px;top:3279.10px;font-size:7.8px;">0</div>
<div class="b" style="left:189.16px;top:3279.1px;width:7.8px;height:7.6px;background:#4a80f5;"></div>
<div class="t" style="left:198.59px;top:3279.10px;font-size:7.8px;">1</div>
<div class="b" style="left:211.72px;top:3279.1px;width:7.8px;height:7.6px;background:#3c74ee;"></div>
<div class="t" style="left:221.15px;top:3279.10px;font-size:7.8px;">2</div>
<div class="b" style="left:234.28px;top:3279.1px;width:7.8px;height:7.6px;background:#2c62e0;"></div>
<div class="t" style="left:243.71px;top:3279.10px;font-size:7.8px;">3</div>
<div class="b" style="left:256.84px;top:3279.1px;width:7.8px;height:7.6px;background:#1a52d4;"></div>
<div class="t" style="left:266.27px;top:3279.10px;font-size:7.8px;">4</div>
<div class="b" style="left:279.4px;top:3279.1px;width:7.8px;height:7.6px;background:#0844c8;"></div>
<div class="t" style="left:288.83px;top:3279.10px;font-size:7.8px;">5</div>
<div class="b" style="left:301.96px;top:3279.1px;width:7.8px;height:7.6px;background:#00309c;"></div>
<div class="t" style="left:311.39px;top:3279.10px;font-size:7.8px;">6</div>
<div class="b" style="left:324.52px;top:3279.1px;width:7.8px;height:7.6px;background:#001f78;"></div>
<div class="t" style="left:333.95px;top:3279.10px;font-size:7.8px;">7</div>
<div class="b" style="left:347.08px;top:3279.1px;width:7.8px;height:7.6px;background:#00175a;"></div>
<div class="t" style="left:356.51px;top:3279.10px;font-size:7.8px;">8</div>
<div class="t" style="left:369.70px;top:3279.10px;font-size:7.8px;transform:scaleX(0.9951);transform-origin:0 0;">Wahlen gewonnen</div>
<svg style="left:255px;top:3340px" width="100" height="16" viewBox="255 3340 100 16"><circle cx="264.5" cy="3348.2" r="4.0" fill="#0b5394"/><circle cx="274.4" cy="3348.2" r="1.7" fill="#dcdcdc"/><circle cx="282.3" cy="3348.2" r="1.7" fill="#dcdcdc"/><circle cx="290.3" cy="3348.2" r="1.7" fill="#dcdcdc"/><circle cx="298.2" cy="3348.2" r="1.7" fill="#dcdcdc"/><circle cx="306.2" cy="3348.2" r="1.7" fill="#dcdcdc"/><circle cx="314.1" cy="3348.2" r="1.7" fill="#dcdcdc"/><circle cx="322.0" cy="3348.2" r="1.7" fill="#dcdcdc"/><circle cx="330.0" cy="3348.2" r="1.7" fill="#dcdcdc"/><circle cx="337.9" cy="3348.2" r="1.7" fill="#dcdcdc"/></svg>
</section>
</main>
<footer class="sec" aria-label="Fußbereich"><div class="card" style="top:3370.4px;height:271.6px"></div>
<div class="b" style="left:27.5px;top:3642px;width:545px;height:20px;background:#e3e3e3;"></div>
<div class="b" style="left:47.4px;top:3390.3px;width:505.20000000000005px;height:1px;background:#e9e9e9;"></div>
<div class="b" style="left:47.4px;top:3411.2px;width:505.20000000000005px;height:1px;background:#e9e9e9;"></div>
<div class="b" style="left:47.4px;top:3432.0px;width:505.20000000000005px;height:1px;background:#e9e9e9;"></div>
<div class="b" style="left:47.4px;top:3452.5px;width:505.20000000000005px;height:1px;background:#e9e9e9;"></div>
<div class="b" style="left:47.4px;top:3472.9px;width:505.20000000000005px;height:1px;background:#e9e9e9;"></div>
<div class="t" style="left:57.30px;top:3398.09px;font-size:8.4px;font-weight:700;color:#222;">Service</div>
<svg style="left:538.7px;top:3398.3px" width="10" height="6" viewBox="0 0 10 6"><path d="M0.5 0.7 L5 5 L9.5 0.7" fill="none" stroke="#444" stroke-width="0.9"/></svg>
<div class="t" style="left:57.30px;top:3418.99px;font-size:8.4px;font-weight:700;color:#222;">tagesschau.de</div>
<svg style="left:538.7px;top:3419.2px" width="10" height="6" viewBox="0 0 10 6"><path d="M0.5 0.7 L5 5 L9.5 0.7" fill="none" stroke="#444" stroke-width="0.9"/></svg>
<div class="t" style="left:57.30px;top:3439.79px;font-size:8.4px;font-weight:700;color:#222;">ARD Angebote</div>
<svg style="left:538.7px;top:3440.0px" width="10" height="6" viewBox="0 0 10 6"><path d="M0.5 0.7 L5 5 L9.5 0.7" fill="none" stroke="#444" stroke-width="0.9"/></svg>
<div class="t" style="left:57.30px;top:3460.29px;font-size:8.4px;font-weight:700;color:#222;">Rundfunkanstalten</div>
<svg style="left:538.7px;top:3460.5px" width="10" height="6" viewBox="0 0 10 6"><path d="M0.5 0.7 L5 5 L9.5 0.7" fill="none" stroke="#444" stroke-width="0.9"/></svg>
<div class="t" style="left:58.30px;top:3486.38px;font-size:9.0px;color:#444;">Impressum</div>
<div class="t" style="left:58.30px;top:3508.08px;font-size:9.0px;color:#444;">So erreichen Sie uns</div>
<div class="t" style="left:58.30px;top:3529.78px;font-size:9.0px;color:#444;">Datenschutzerklärung</div>
<div class="t" style="left:58.30px;top:3551.48px;font-size:9.0px;color:#444;">Bildrechte</div>
<div class="t" style="left:469.00px;top:3623.98px;font-size:6.4px;transform:scaleX(0.9327);transform-origin:0 0;">Wir sind deins.</div>
<div class="t" style="left:510.20px;top:3619.54px;font-size:12.0px;font-weight:700;transform:scaleX(0.8538);transform-origin:0 0;-webkit-text-stroke:0.3px #333;">ARD</div>
<svg role="img" aria-label="ARD" style="left:532.2px;top:3615.1px" width="20" height="20" viewBox="-10 -10 20 20"><path d="M-7.9 -3.2 A8.5 8.5 0 1 1 -7.6 3.9" fill="none" stroke="#333" stroke-width="1.9"/><text x="-1.2" y="5.7" text-anchor="middle" font-family="Liberation Sans, sans-serif" font-weight="700" font-size="16" fill="#333" stroke="#333" stroke-width="0.5" transform="scale(1.25 1)">1</text></svg>
<div class="t" style="left:47.40px;top:3646.89px;font-size:5.8px;color:#999;transform:scaleX(1.0224);transform-origin:0 0;">© ARD-aktuell / tagesschau.de</div>
</footer>
</div>
</body>
</html>
